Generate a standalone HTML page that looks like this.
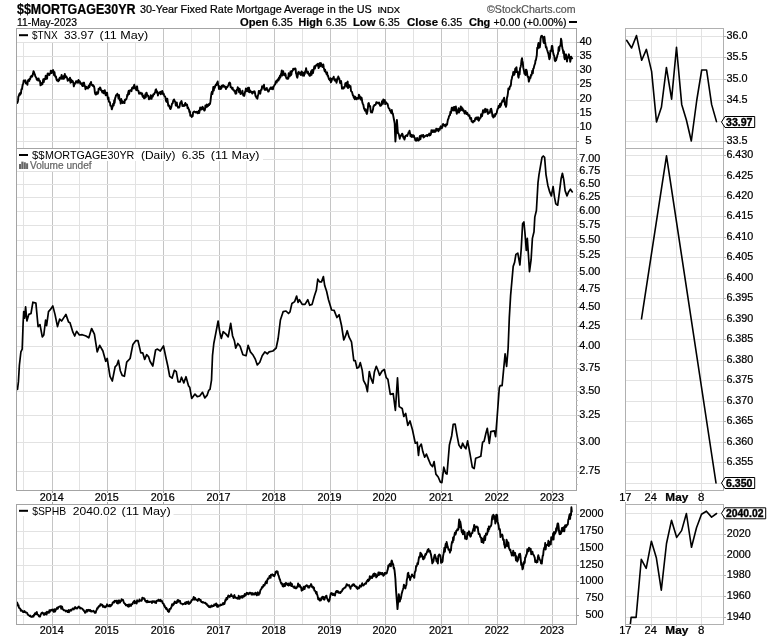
<!DOCTYPE html>
<html><head><meta charset="utf-8"><title>$$MORTGAGE30YR</title>
<style>html,body{margin:0;padding:0;background:#fff}svg{display:block;will-change:transform}</style></head>
<body>
<svg width="770" height="639" viewBox="0 0 770 639">
<rect width="770" height="639" fill="#fff"/>
<line x1="23.5" x2="23.5" y1="28.5" y2="148.5" stroke="#e2e2e2" stroke-width="1"/>
<line x1="79.5" x2="79.5" y1="28.5" y2="148.5" stroke="#e2e2e2" stroke-width="1"/>
<line x1="135.5" x2="135.5" y1="28.5" y2="148.5" stroke="#e2e2e2" stroke-width="1"/>
<line x1="191.5" x2="191.5" y1="28.5" y2="148.5" stroke="#e2e2e2" stroke-width="1"/>
<line x1="246.5" x2="246.5" y1="28.5" y2="148.5" stroke="#e2e2e2" stroke-width="1"/>
<line x1="302.5" x2="302.5" y1="28.5" y2="148.5" stroke="#e2e2e2" stroke-width="1"/>
<line x1="357.5" x2="357.5" y1="28.5" y2="148.5" stroke="#e2e2e2" stroke-width="1"/>
<line x1="413.5" x2="413.5" y1="28.5" y2="148.5" stroke="#e2e2e2" stroke-width="1"/>
<line x1="468.5" x2="468.5" y1="28.5" y2="148.5" stroke="#e2e2e2" stroke-width="1"/>
<line x1="524.5" x2="524.5" y1="28.5" y2="148.5" stroke="#e2e2e2" stroke-width="1"/>
<line x1="52.5" x2="52.5" y1="28.5" y2="148.5" stroke="#c4c4c4" stroke-width="1"/>
<line x1="107.5" x2="107.5" y1="28.5" y2="148.5" stroke="#c4c4c4" stroke-width="1"/>
<line x1="163.5" x2="163.5" y1="28.5" y2="148.5" stroke="#c4c4c4" stroke-width="1"/>
<line x1="219.5" x2="219.5" y1="28.5" y2="148.5" stroke="#c4c4c4" stroke-width="1"/>
<line x1="274.5" x2="274.5" y1="28.5" y2="148.5" stroke="#c4c4c4" stroke-width="1"/>
<line x1="330.5" x2="330.5" y1="28.5" y2="148.5" stroke="#c4c4c4" stroke-width="1"/>
<line x1="385.5" x2="385.5" y1="28.5" y2="148.5" stroke="#c4c4c4" stroke-width="1"/>
<line x1="441.5" x2="441.5" y1="28.5" y2="148.5" stroke="#c4c4c4" stroke-width="1"/>
<line x1="497.5" x2="497.5" y1="28.5" y2="148.5" stroke="#c4c4c4" stroke-width="1"/>
<line x1="552.5" x2="552.5" y1="28.5" y2="148.5" stroke="#c4c4c4" stroke-width="1"/>
<line x1="16.5" x2="576.5" y1="42.5" y2="42.5" stroke="#e2e2e2" stroke-width="1"/>
<line x1="16.5" x2="576.5" y1="56.5" y2="56.5" stroke="#e2e2e2" stroke-width="1"/>
<line x1="16.5" x2="576.5" y1="70.5" y2="70.5" stroke="#e2e2e2" stroke-width="1"/>
<line x1="16.5" x2="576.5" y1="84.5" y2="84.5" stroke="#e2e2e2" stroke-width="1"/>
<line x1="16.5" x2="576.5" y1="99.5" y2="99.5" stroke="#e2e2e2" stroke-width="1"/>
<line x1="16.5" x2="576.5" y1="113.5" y2="113.5" stroke="#e2e2e2" stroke-width="1"/>
<line x1="16.5" x2="576.5" y1="127.5" y2="127.5" stroke="#e2e2e2" stroke-width="1"/>
<line x1="16.5" x2="576.5" y1="141.5" y2="141.5" stroke="#e2e2e2" stroke-width="1"/>
<line x1="23.5" x2="23.5" y1="148.5" y2="490.5" stroke="#e2e2e2" stroke-width="1"/>
<line x1="79.5" x2="79.5" y1="148.5" y2="490.5" stroke="#e2e2e2" stroke-width="1"/>
<line x1="135.5" x2="135.5" y1="148.5" y2="490.5" stroke="#e2e2e2" stroke-width="1"/>
<line x1="191.5" x2="191.5" y1="148.5" y2="490.5" stroke="#e2e2e2" stroke-width="1"/>
<line x1="246.5" x2="246.5" y1="148.5" y2="490.5" stroke="#e2e2e2" stroke-width="1"/>
<line x1="302.5" x2="302.5" y1="148.5" y2="490.5" stroke="#e2e2e2" stroke-width="1"/>
<line x1="357.5" x2="357.5" y1="148.5" y2="490.5" stroke="#e2e2e2" stroke-width="1"/>
<line x1="413.5" x2="413.5" y1="148.5" y2="490.5" stroke="#e2e2e2" stroke-width="1"/>
<line x1="468.5" x2="468.5" y1="148.5" y2="490.5" stroke="#e2e2e2" stroke-width="1"/>
<line x1="524.5" x2="524.5" y1="148.5" y2="490.5" stroke="#e2e2e2" stroke-width="1"/>
<line x1="52.5" x2="52.5" y1="148.5" y2="490.5" stroke="#c4c4c4" stroke-width="1"/>
<line x1="107.5" x2="107.5" y1="148.5" y2="490.5" stroke="#c4c4c4" stroke-width="1"/>
<line x1="163.5" x2="163.5" y1="148.5" y2="490.5" stroke="#c4c4c4" stroke-width="1"/>
<line x1="219.5" x2="219.5" y1="148.5" y2="490.5" stroke="#c4c4c4" stroke-width="1"/>
<line x1="274.5" x2="274.5" y1="148.5" y2="490.5" stroke="#c4c4c4" stroke-width="1"/>
<line x1="330.5" x2="330.5" y1="148.5" y2="490.5" stroke="#c4c4c4" stroke-width="1"/>
<line x1="385.5" x2="385.5" y1="148.5" y2="490.5" stroke="#c4c4c4" stroke-width="1"/>
<line x1="441.5" x2="441.5" y1="148.5" y2="490.5" stroke="#c4c4c4" stroke-width="1"/>
<line x1="497.5" x2="497.5" y1="148.5" y2="490.5" stroke="#c4c4c4" stroke-width="1"/>
<line x1="552.5" x2="552.5" y1="148.5" y2="490.5" stroke="#c4c4c4" stroke-width="1"/>
<line x1="16.5" x2="576.5" y1="159.5" y2="159.5" stroke="#e2e2e2" stroke-width="1"/>
<line x1="16.5" x2="576.5" y1="171.5" y2="171.5" stroke="#e2e2e2" stroke-width="1"/>
<line x1="16.5" x2="576.5" y1="184.5" y2="184.5" stroke="#e2e2e2" stroke-width="1"/>
<line x1="16.5" x2="576.5" y1="197.5" y2="197.5" stroke="#e2e2e2" stroke-width="1"/>
<line x1="16.5" x2="576.5" y1="211.5" y2="211.5" stroke="#e2e2e2" stroke-width="1"/>
<line x1="16.5" x2="576.5" y1="225.5" y2="225.5" stroke="#e2e2e2" stroke-width="1"/>
<line x1="16.5" x2="576.5" y1="240.5" y2="240.5" stroke="#e2e2e2" stroke-width="1"/>
<line x1="16.5" x2="576.5" y1="255.5" y2="255.5" stroke="#e2e2e2" stroke-width="1"/>
<line x1="16.5" x2="576.5" y1="271.5" y2="271.5" stroke="#e2e2e2" stroke-width="1"/>
<line x1="16.5" x2="576.5" y1="289.5" y2="289.5" stroke="#e2e2e2" stroke-width="1"/>
<line x1="16.5" x2="576.5" y1="307.5" y2="307.5" stroke="#e2e2e2" stroke-width="1"/>
<line x1="16.5" x2="576.5" y1="326.5" y2="326.5" stroke="#e2e2e2" stroke-width="1"/>
<line x1="16.5" x2="576.5" y1="346.5" y2="346.5" stroke="#e2e2e2" stroke-width="1"/>
<line x1="16.5" x2="576.5" y1="368.5" y2="368.5" stroke="#e2e2e2" stroke-width="1"/>
<line x1="16.5" x2="576.5" y1="391.5" y2="391.5" stroke="#e2e2e2" stroke-width="1"/>
<line x1="16.5" x2="576.5" y1="415.5" y2="415.5" stroke="#e2e2e2" stroke-width="1"/>
<line x1="16.5" x2="576.5" y1="442.5" y2="442.5" stroke="#e2e2e2" stroke-width="1"/>
<line x1="16.5" x2="576.5" y1="471.5" y2="471.5" stroke="#e2e2e2" stroke-width="1"/>
<line x1="23.5" x2="23.5" y1="504.5" y2="624.5" stroke="#e2e2e2" stroke-width="1"/>
<line x1="79.5" x2="79.5" y1="504.5" y2="624.5" stroke="#e2e2e2" stroke-width="1"/>
<line x1="135.5" x2="135.5" y1="504.5" y2="624.5" stroke="#e2e2e2" stroke-width="1"/>
<line x1="191.5" x2="191.5" y1="504.5" y2="624.5" stroke="#e2e2e2" stroke-width="1"/>
<line x1="246.5" x2="246.5" y1="504.5" y2="624.5" stroke="#e2e2e2" stroke-width="1"/>
<line x1="302.5" x2="302.5" y1="504.5" y2="624.5" stroke="#e2e2e2" stroke-width="1"/>
<line x1="357.5" x2="357.5" y1="504.5" y2="624.5" stroke="#e2e2e2" stroke-width="1"/>
<line x1="413.5" x2="413.5" y1="504.5" y2="624.5" stroke="#e2e2e2" stroke-width="1"/>
<line x1="468.5" x2="468.5" y1="504.5" y2="624.5" stroke="#e2e2e2" stroke-width="1"/>
<line x1="524.5" x2="524.5" y1="504.5" y2="624.5" stroke="#e2e2e2" stroke-width="1"/>
<line x1="52.5" x2="52.5" y1="504.5" y2="624.5" stroke="#c4c4c4" stroke-width="1"/>
<line x1="107.5" x2="107.5" y1="504.5" y2="624.5" stroke="#c4c4c4" stroke-width="1"/>
<line x1="163.5" x2="163.5" y1="504.5" y2="624.5" stroke="#c4c4c4" stroke-width="1"/>
<line x1="219.5" x2="219.5" y1="504.5" y2="624.5" stroke="#c4c4c4" stroke-width="1"/>
<line x1="274.5" x2="274.5" y1="504.5" y2="624.5" stroke="#c4c4c4" stroke-width="1"/>
<line x1="330.5" x2="330.5" y1="504.5" y2="624.5" stroke="#c4c4c4" stroke-width="1"/>
<line x1="385.5" x2="385.5" y1="504.5" y2="624.5" stroke="#c4c4c4" stroke-width="1"/>
<line x1="441.5" x2="441.5" y1="504.5" y2="624.5" stroke="#c4c4c4" stroke-width="1"/>
<line x1="497.5" x2="497.5" y1="504.5" y2="624.5" stroke="#c4c4c4" stroke-width="1"/>
<line x1="552.5" x2="552.5" y1="504.5" y2="624.5" stroke="#c4c4c4" stroke-width="1"/>
<line x1="16.5" x2="576.5" y1="615.5" y2="615.5" stroke="#e2e2e2" stroke-width="1"/>
<line x1="16.5" x2="576.5" y1="598.5" y2="598.5" stroke="#e2e2e2" stroke-width="1"/>
<line x1="16.5" x2="576.5" y1="581.5" y2="581.5" stroke="#e2e2e2" stroke-width="1"/>
<line x1="16.5" x2="576.5" y1="565.5" y2="565.5" stroke="#e2e2e2" stroke-width="1"/>
<line x1="16.5" x2="576.5" y1="548.5" y2="548.5" stroke="#e2e2e2" stroke-width="1"/>
<line x1="16.5" x2="576.5" y1="531.5" y2="531.5" stroke="#e2e2e2" stroke-width="1"/>
<line x1="16.5" x2="576.5" y1="514.5" y2="514.5" stroke="#e2e2e2" stroke-width="1"/>
<line x1="651.5" x2="651.5" y1="28.5" y2="148.5" stroke="#e2e2e2" stroke-width="1"/>
<line x1="676.5" x2="676.5" y1="28.5" y2="148.5" stroke="#e2e2e2" stroke-width="1"/>
<line x1="701.5" x2="701.5" y1="28.5" y2="148.5" stroke="#e2e2e2" stroke-width="1"/>
<line x1="625.5" x2="723.5" y1="36.5" y2="36.5" stroke="#e2e2e2" stroke-width="1"/>
<line x1="625.5" x2="723.5" y1="57.5" y2="57.5" stroke="#e2e2e2" stroke-width="1"/>
<line x1="625.5" x2="723.5" y1="79.5" y2="79.5" stroke="#e2e2e2" stroke-width="1"/>
<line x1="625.5" x2="723.5" y1="100.5" y2="100.5" stroke="#e2e2e2" stroke-width="1"/>
<line x1="625.5" x2="723.5" y1="121.5" y2="121.5" stroke="#e2e2e2" stroke-width="1"/>
<line x1="625.5" x2="723.5" y1="141.5" y2="141.5" stroke="#e2e2e2" stroke-width="1"/>
<line x1="651.5" x2="651.5" y1="148.5" y2="490.5" stroke="#e2e2e2" stroke-width="1"/>
<line x1="676.5" x2="676.5" y1="148.5" y2="490.5" stroke="#e2e2e2" stroke-width="1"/>
<line x1="701.5" x2="701.5" y1="148.5" y2="490.5" stroke="#e2e2e2" stroke-width="1"/>
<line x1="625.5" x2="723.5" y1="483.5" y2="483.5" stroke="#e2e2e2" stroke-width="1"/>
<line x1="625.5" x2="723.5" y1="462.5" y2="462.5" stroke="#e2e2e2" stroke-width="1"/>
<line x1="625.5" x2="723.5" y1="442.5" y2="442.5" stroke="#e2e2e2" stroke-width="1"/>
<line x1="625.5" x2="723.5" y1="421.5" y2="421.5" stroke="#e2e2e2" stroke-width="1"/>
<line x1="625.5" x2="723.5" y1="401.5" y2="401.5" stroke="#e2e2e2" stroke-width="1"/>
<line x1="625.5" x2="723.5" y1="380.5" y2="380.5" stroke="#e2e2e2" stroke-width="1"/>
<line x1="625.5" x2="723.5" y1="360.5" y2="360.5" stroke="#e2e2e2" stroke-width="1"/>
<line x1="625.5" x2="723.5" y1="339.5" y2="339.5" stroke="#e2e2e2" stroke-width="1"/>
<line x1="625.5" x2="723.5" y1="319.5" y2="319.5" stroke="#e2e2e2" stroke-width="1"/>
<line x1="625.5" x2="723.5" y1="298.5" y2="298.5" stroke="#e2e2e2" stroke-width="1"/>
<line x1="625.5" x2="723.5" y1="278.5" y2="278.5" stroke="#e2e2e2" stroke-width="1"/>
<line x1="625.5" x2="723.5" y1="257.5" y2="257.5" stroke="#e2e2e2" stroke-width="1"/>
<line x1="625.5" x2="723.5" y1="237.5" y2="237.5" stroke="#e2e2e2" stroke-width="1"/>
<line x1="625.5" x2="723.5" y1="216.5" y2="216.5" stroke="#e2e2e2" stroke-width="1"/>
<line x1="625.5" x2="723.5" y1="196.5" y2="196.5" stroke="#e2e2e2" stroke-width="1"/>
<line x1="625.5" x2="723.5" y1="175.5" y2="175.5" stroke="#e2e2e2" stroke-width="1"/>
<line x1="625.5" x2="723.5" y1="155.5" y2="155.5" stroke="#e2e2e2" stroke-width="1"/>
<line x1="651.5" x2="651.5" y1="504.5" y2="624.5" stroke="#e2e2e2" stroke-width="1"/>
<line x1="676.5" x2="676.5" y1="504.5" y2="624.5" stroke="#e2e2e2" stroke-width="1"/>
<line x1="701.5" x2="701.5" y1="504.5" y2="624.5" stroke="#e2e2e2" stroke-width="1"/>
<line x1="625.5" x2="723.5" y1="617.5" y2="617.5" stroke="#e2e2e2" stroke-width="1"/>
<line x1="625.5" x2="723.5" y1="596.5" y2="596.5" stroke="#e2e2e2" stroke-width="1"/>
<line x1="625.5" x2="723.5" y1="575.5" y2="575.5" stroke="#e2e2e2" stroke-width="1"/>
<line x1="625.5" x2="723.5" y1="555.5" y2="555.5" stroke="#e2e2e2" stroke-width="1"/>
<line x1="625.5" x2="723.5" y1="534.5" y2="534.5" stroke="#e2e2e2" stroke-width="1"/>
<line x1="625.5" x2="723.5" y1="513.5" y2="513.5" stroke="#e2e2e2" stroke-width="1"/>
<rect x="17" y="29" width="133" height="13" fill="#fff"/>
<rect x="17" y="149" width="246" height="12" fill="#fff"/>
<rect x="17" y="161" width="77" height="10" fill="#fff"/>
<rect x="17" y="505" width="156.5" height="11" fill="#fff"/>
<polyline points="17.1,103.0 17.5,102.6 18.0,100.7 18.4,96.5 18.8,96.1 19.2,94.5 19.6,93.6 20.1,94.7 20.5,92.7 20.9,93.7 21.4,89.3 21.9,89.3 22.3,86.8 22.8,84.3 23.2,83.9 23.7,80.4 24.1,80.5 24.6,81.2 25.0,81.8 25.4,80.3 25.9,83.3 26.4,83.5 26.9,82.6 27.4,84.8 27.8,81.1 28.3,80.0 28.8,79.6 29.3,80.9 29.7,78.6 30.2,79.1 30.7,76.5 31.1,76.8 31.6,75.8 32.1,76.7 32.6,75.4 33.0,73.8 33.5,71.1 34.0,72.1 34.5,73.9 34.9,74.5 35.4,76.6 35.8,76.9 36.3,77.7 36.8,79.9 37.2,78.6 37.7,79.4 38.2,80.6 38.6,78.4 39.1,80.5 39.6,80.5 40.0,81.0 40.5,85.4 41.0,82.9 41.4,84.7 41.9,84.3 42.4,84.3 42.8,82.0 43.3,79.1 43.8,82.1 44.2,79.0 44.7,78.7 45.2,79.3 45.7,75.7 46.1,76.6 46.6,78.8 47.1,78.6 47.5,73.8 48.0,73.3 48.5,74.9 49.0,74.3 49.4,75.0 49.9,73.6 50.4,73.3 50.8,70.7 51.3,72.8 51.7,73.1 52.2,70.8 52.7,70.9 53.1,70.1 53.6,72.1 54.1,75.4 54.5,72.2 55.0,75.8 55.5,76.8 56.0,76.6 56.4,79.1 56.9,80.5 57.4,79.7 57.8,79.6 58.3,81.4 58.8,79.3 59.2,80.3 59.7,77.7 60.2,77.6 60.6,77.3 61.1,78.8 61.6,74.9 62.0,78.5 62.5,78.7 63.0,78.7 63.4,76.3 63.9,78.7 64.4,76.8 64.8,74.0 65.3,77.2 65.8,77.2 66.2,76.3 66.7,77.3 67.2,78.2 67.7,80.7 68.1,79.2 68.6,79.3 69.1,79.6 69.6,80.6 70.0,77.6 70.5,82.7 71.0,79.5 71.4,82.3 71.9,82.0 72.4,80.7 72.8,81.3 73.3,82.5 73.8,86.4 74.2,85.0 74.7,84.3 75.2,82.9 75.6,82.9 76.1,81.1 76.6,82.4 77.0,81.1 77.5,81.5 78.0,82.8 78.5,79.9 78.9,81.7 79.4,81.1 79.9,81.5 80.3,83.9 80.8,83.3 81.3,83.3 81.8,84.5 82.2,85.8 82.7,86.1 83.2,82.7 83.6,85.9 84.1,82.8 84.5,85.7 85.0,86.2 85.5,89.4 86.0,86.6 86.5,86.8 86.9,87.9 87.4,88.1 87.9,88.4 88.3,87.5 88.8,85.4 89.2,87.3 89.7,86.1 90.1,83.5 90.6,83.4 91.0,82.0 91.4,83.7 91.8,85.0 92.2,84.7 92.7,85.8 93.1,85.1 93.5,86.2 94.0,86.3 94.5,88.8 94.9,92.7 95.4,94.3 95.9,94.6 96.4,94.0 96.8,92.2 97.3,92.6 97.7,93.8 98.2,92.6 98.6,88.8 99.1,89.0 99.6,89.2 100.0,87.4 100.5,88.1 101.0,90.2 101.5,90.2 102.0,91.8 102.4,92.5 102.9,90.9 103.4,92.3 103.8,93.3 104.3,90.8 104.8,90.2 105.2,92.7 105.7,95.4 106.1,93.0 106.6,92.7 107.1,92.6 107.5,96.2 108.0,99.4 108.5,97.5 108.9,101.6 109.4,102.1 109.9,102.2 110.4,105.7 110.8,105.9 111.3,106.2 111.8,109.4 112.3,107.7 112.8,105.6 113.2,103.7 113.7,105.5 114.2,100.3 114.6,103.0 115.1,98.4 115.5,97.4 116.0,95.1 116.4,95.6 116.9,94.8 117.3,93.7 117.7,95.1 118.1,95.6 118.5,98.5 119.0,95.0 119.4,98.4 119.8,100.2 120.3,100.3 120.7,103.6 121.2,98.9 121.7,101.6 122.1,101.0 122.6,103.0 123.1,101.6 123.5,102.9 124.0,102.2 124.5,103.1 124.9,99.8 125.4,100.2 125.9,99.3 126.3,99.3 126.8,97.7 127.3,94.7 127.7,95.6 128.2,92.7 128.7,90.8 129.1,94.1 129.6,91.2 130.1,90.2 130.6,90.2 131.1,90.4 131.5,91.2 132.0,88.0 132.5,87.6 132.9,87.2 133.4,88.4 133.9,86.1 134.3,84.7 134.8,87.1 135.3,88.8 135.7,87.5 136.2,90.2 136.7,87.5 137.1,86.3 137.6,90.4 138.0,90.7 138.5,90.9 139.0,93.7 139.4,92.6 139.9,92.7 140.4,93.6 140.8,92.7 141.3,93.7 141.8,94.6 142.2,93.4 142.7,96.8 143.2,95.7 143.6,97.0 144.1,98.4 144.5,98.4 144.9,97.8 145.3,94.1 145.8,97.4 146.2,92.8 146.6,92.7 147.1,94.7 147.5,95.7 148.0,95.5 148.4,96.2 148.9,99.3 149.3,98.8 149.8,98.4 150.2,98.7 150.7,95.3 151.1,96.5 151.5,98.9 151.9,97.3 152.4,95.4 152.8,96.5 153.3,94.5 153.7,93.9 154.2,94.2 154.7,92.7 155.1,92.4 155.6,89.9 156.1,89.3 156.5,92.6 157.0,91.1 157.5,92.0 157.9,95.5 158.4,93.7 158.9,93.5 159.3,92.8 159.8,92.3 160.3,91.7 160.8,94.2 161.2,93.6 161.7,92.3 162.2,90.9 162.7,92.1 163.1,94.3 163.6,93.6 164.1,95.3 164.5,96.1 165.0,96.5 165.5,97.6 165.9,100.6 166.4,101.7 166.9,102.0 167.3,98.6 167.8,102.1 168.3,105.9 168.7,105.7 169.2,105.5 169.6,107.3 170.1,108.7 170.5,109.1 170.9,108.1 171.4,106.6 171.8,104.6 172.2,103.4 172.7,103.4 173.1,101.1 173.5,100.2 174.0,99.4 174.4,100.3 174.9,101.4 175.4,102.5 175.8,105.5 176.3,103.0 176.8,102.4 177.2,106.0 177.7,106.4 178.1,107.7 178.6,107.2 179.1,107.6 179.6,106.5 180.0,103.8 180.5,102.3 181.0,102.1 181.5,101.0 182.0,103.5 182.4,106.0 182.9,104.8 183.4,105.9 183.9,106.1 184.4,105.4 184.8,104.3 185.3,103.0 185.8,105.3 186.2,104.5 186.7,104.3 187.1,104.7 187.6,108.3 188.0,107.4 188.5,108.7 189.0,109.5 189.4,112.2 189.9,111.3 190.3,115.7 190.8,115.5 191.2,115.3 191.7,117.1 192.2,115.2 192.7,116.2 193.1,112.3 193.6,111.8 194.1,111.5 194.6,111.7 195.0,112.1 195.5,112.0 196.0,112.6 196.4,111.8 196.9,112.4 197.4,111.9 197.8,113.4 198.3,112.3 198.8,110.6 199.2,113.1 199.7,110.6 200.2,107.4 200.6,109.4 201.1,109.6 201.6,109.3 202.0,107.6 202.5,106.8 203.0,107.3 203.4,109.5 203.9,109.4 204.4,110.6 204.9,110.0 205.4,105.4 205.8,107.6 206.3,105.9 206.8,104.6 207.2,106.7 207.7,106.2 208.2,105.9 208.6,104.2 209.1,105.1 209.5,103.8 210.0,104.0 210.5,101.2 210.9,97.7 211.4,93.6 211.9,91.8 212.4,94.0 212.8,91.6 213.3,86.9 213.8,90.6 214.2,86.6 214.7,88.0 215.1,86.8 215.5,85.4 215.9,84.6 216.4,84.9 216.8,83.2 217.2,82.8 217.7,81.5 218.1,84.6 218.6,86.0 219.0,89.0 219.5,86.6 219.9,86.4 220.4,89.0 220.9,87.8 221.3,88.7 221.8,85.8 222.3,85.4 222.7,86.7 223.2,85.2 223.7,85.8 224.1,86.8 224.6,86.2 225.1,86.5 225.5,87.9 226.0,89.0 226.5,87.9 226.9,86.7 227.4,87.0 227.8,86.3 228.3,85.4 228.7,84.4 229.2,82.8 229.7,82.5 230.2,83.2 230.6,87.1 231.1,87.0 231.6,88.0 232.1,88.9 232.6,87.7 233.0,89.8 233.5,89.9 234.0,90.3 234.4,91.4 234.9,90.8 235.4,93.7 235.9,92.9 236.3,93.5 236.8,89.8 237.3,90.0 237.7,87.3 238.2,88.0 238.7,89.8 239.1,92.3 239.6,88.6 240.1,90.8 240.5,94.0 241.0,92.7 241.5,93.5 241.9,93.5 242.4,90.7 242.9,93.8 243.3,95.6 243.8,94.6 244.2,95.9 244.7,94.1 245.1,91.7 245.5,90.8 245.9,88.5 246.3,88.8 246.8,91.3 247.2,89.0 247.7,89.1 248.1,87.6 248.6,91.7 249.0,87.6 249.5,92.2 249.9,90.2 250.4,90.9 250.9,91.6 251.3,92.3 251.8,92.0 252.2,93.6 252.7,92.0 253.2,91.8 253.6,91.5 254.1,92.7 254.6,91.3 255.0,93.0 255.5,96.0 256.0,96.4 256.4,97.8 256.9,96.5 257.4,98.7 257.9,95.6 258.4,94.4 258.8,90.9 259.3,91.5 259.8,90.9 260.3,93.7 260.7,90.9 261.2,89.5 261.6,89.8 262.1,86.1 262.6,87.3 263.0,86.2 263.5,87.7 264.0,84.8 264.4,89.4 264.9,90.0 265.4,88.6 265.8,89.7 266.3,89.5 266.8,88.0 267.2,90.0 267.7,90.4 268.2,91.5 268.7,91.5 269.2,89.8 269.6,88.9 270.1,89.0 270.6,87.4 271.0,87.4 271.5,88.9 272.0,88.4 272.4,87.3 272.9,89.4 273.3,87.5 273.8,86.2 274.3,85.5 274.8,84.5 275.2,84.2 275.7,81.9 276.2,81.1 276.7,82.5 277.1,80.3 277.6,80.5 278.1,79.1 278.5,80.5 279.0,77.4 279.5,78.8 279.9,75.8 280.4,77.3 280.8,74.7 281.3,73.0 281.8,70.5 282.3,75.6 282.8,73.6 283.2,71.1 283.7,74.8 284.2,74.9 284.7,75.4 285.1,73.4 285.6,74.8 286.0,76.9 286.5,78.6 287.0,78.4 287.4,78.8 287.9,77.2 288.3,78.7 288.7,73.2 289.2,75.2 289.6,76.4 290.0,75.8 290.5,71.4 290.9,75.2 291.4,74.5 291.8,70.9 292.3,71.2 292.8,70.1 293.2,68.7 293.7,69.7 294.2,69.2 294.6,68.8 295.1,68.3 295.6,68.8 296.0,73.2 296.4,74.1 296.9,76.8 297.3,77.7 297.7,76.0 298.1,72.5 298.6,72.0 299.0,73.7 299.4,73.0 299.9,72.5 300.3,74.2 300.8,75.0 301.2,74.0 301.7,71.5 302.2,72.5 302.6,75.6 303.1,74.9 303.5,72.8 304.0,75.8 304.4,73.4 304.8,73.9 305.2,71.2 305.6,72.0 306.1,68.1 306.5,71.2 307.0,71.5 307.4,73.4 307.9,71.7 308.3,72.5 308.8,74.4 309.2,75.2 309.7,75.8 310.2,73.8 310.6,75.5 311.1,71.1 311.6,74.8 312.1,70.0 312.6,70.3 313.0,73.1 313.5,70.2 314.0,68.0 314.4,66.3 314.9,68.6 315.4,66.3 315.8,65.4 316.3,65.5 316.7,64.8 317.2,65.5 317.7,63.8 318.1,63.7 318.6,68.1 319.1,64.2 319.5,66.9 320.0,62.9 320.5,66.1 321.0,63.1 321.4,64.4 321.9,65.1 322.4,67.0 322.8,66.0 323.3,64.5 323.8,67.7 324.2,69.2 324.7,71.3 325.1,69.6 325.6,72.1 326.1,72.6 326.6,74.1 327.1,72.3 327.5,75.7 328.0,75.5 328.5,77.7 329.0,79.3 329.5,79.4 329.9,80.3 330.4,78.1 330.9,82.4 331.4,81.4 331.8,80.2 332.3,78.5 332.7,78.3 333.2,78.3 333.7,76.7 334.1,79.3 334.6,80.4 335.1,80.7 335.5,79.3 336.0,80.5 336.5,82.8 336.9,81.2 337.4,78.1 337.8,79.0 338.3,76.4 338.7,78.4 339.2,78.3 339.7,80.8 340.1,83.0 340.6,81.8 341.1,81.1 341.6,85.0 342.0,88.6 342.5,88.0 343.0,87.6 343.4,88.6 343.9,87.3 344.4,87.7 344.9,85.7 345.4,83.1 345.8,84.1 346.3,82.8 346.8,86.7 347.2,83.1 347.7,81.6 348.1,88.1 348.6,86.1 349.1,85.1 349.5,85.7 350.0,87.1 350.5,86.2 351.0,90.9 351.4,91.5 351.9,91.8 352.4,93.5 352.9,95.5 353.4,95.4 353.8,97.9 354.3,96.7 354.8,99.3 355.2,96.7 355.7,97.5 356.1,98.2 356.6,99.3 357.1,97.9 357.5,97.9 358.0,98.8 358.5,98.5 358.9,94.6 359.4,95.5 359.8,97.9 360.2,96.9 360.6,99.6 361.1,97.8 361.5,97.5 361.9,99.3 362.3,102.3 362.8,103.9 363.2,104.3 363.7,106.8 364.1,108.7 364.6,109.7 365.0,110.8 365.5,109.1 366.0,110.6 366.4,113.1 366.9,113.9 367.4,111.5 367.9,107.8 368.3,103.4 368.8,103.0 369.3,106.4 369.7,105.7 370.2,106.3 370.7,111.3 371.1,112.3 371.6,112.4 372.1,112.5 372.5,111.0 373.0,109.4 373.5,106.1 373.9,106.2 374.4,104.9 374.9,105.0 375.3,105.0 375.8,104.4 376.3,102.1 376.7,102.3 377.2,102.7 377.7,102.8 378.2,103.5 378.6,103.1 379.1,102.4 379.6,103.8 380.1,105.9 380.6,105.8 381.0,104.8 381.5,105.0 382.0,101.2 382.4,102.6 382.9,103.8 383.3,99.4 383.8,101.5 384.3,100.3 384.8,99.9 385.2,104.1 385.7,102.8 386.2,102.3 386.7,103.6 387.1,103.6 387.6,104.0 388.1,106.3 388.5,107.7 389.0,108.5 389.5,108.8 389.9,110.5 390.4,110.6 390.9,112.2 391.4,113.2 391.8,110.0 392.3,113.3 392.8,113.4 393.3,116.1 393.8,118.7 394.2,120.8 394.7,123.7 395.0,132.5 395.4,141.5 395.9,134.8 396.4,127.3 396.9,119.9 397.4,126.6 397.9,133.1 398.4,133.4 398.9,134.6 399.3,136.5 399.8,138.7 400.2,135.9 400.7,136.3 401.2,135.0 401.6,134.9 402.1,133.7 402.6,134.3 403.0,136.6 403.5,137.8 404.0,137.0 404.4,139.6 404.9,138.0 405.4,136.0 405.9,136.1 406.4,135.3 406.8,135.3 407.3,135.9 407.7,134.5 408.2,133.8 408.6,132.2 409.1,132.7 409.5,130.8 410.0,133.2 410.5,136.3 411.0,135.9 411.5,134.8 411.9,137.1 412.4,136.2 412.9,135.2 413.4,136.8 413.9,135.6 414.3,137.5 414.8,137.8 415.3,140.4 415.7,139.8 416.2,140.7 416.6,140.4 417.1,138.0 417.6,140.3 418.0,140.4 418.5,140.6 419.0,140.2 419.4,137.8 419.9,135.9 420.4,139.2 420.8,137.4 421.3,135.3 421.8,135.9 422.2,135.3 422.7,136.2 423.2,135.0 423.6,137.5 424.1,136.8 424.6,136.7 425.1,136.2 425.5,135.6 426.0,135.8 426.5,135.8 426.9,135.0 427.4,136.2 427.9,134.9 428.3,135.0 428.7,134.5 429.2,133.6 429.6,135.6 430.0,134.2 430.5,134.9 431.0,133.6 431.4,130.3 431.9,131.2 432.4,132.0 432.9,130.3 433.4,130.5 433.9,132.0 434.4,130.3 434.8,131.8 435.3,131.7 435.8,131.3 436.2,128.6 436.7,130.3 437.1,130.2 437.5,129.5 437.9,128.9 438.4,131.3 438.8,129.3 439.3,129.0 439.8,129.8 440.2,127.3 440.7,126.3 441.2,127.9 441.7,128.3 442.2,127.3 442.7,124.5 443.2,123.9 443.7,125.0 444.2,125.8 444.6,124.9 445.1,125.8 445.6,126.4 446.1,124.3 446.6,125.0 447.1,124.6 447.5,121.8 448.0,119.3 448.5,118.6 449.0,116.3 449.5,115.3 449.9,115.3 450.4,111.8 450.9,113.1 451.4,109.8 451.8,107.8 452.3,109.0 452.7,110.3 453.1,110.5 453.5,107.2 454.0,108.3 454.4,106.9 454.9,110.6 455.4,110.0 455.9,106.5 456.3,110.5 456.8,113.8 457.3,111.8 457.7,110.0 458.2,112.3 458.6,108.2 459.0,112.5 459.5,109.1 459.9,110.9 460.3,110.7 460.8,106.4 461.2,108.9 461.7,107.5 462.2,110.3 462.6,108.4 463.1,110.8 463.6,110.1 464.1,111.8 464.6,113.6 465.1,111.5 465.6,111.1 466.0,113.2 466.5,114.1 467.0,112.7 467.5,113.3 468.0,114.7 468.4,115.8 468.9,115.4 469.4,115.3 469.9,117.6 470.3,118.9 470.8,118.6 471.2,118.1 471.6,121.4 472.0,121.6 472.5,122.0 472.9,122.5 473.4,121.0 473.9,120.9 474.4,121.3 474.8,120.5 475.3,118.3 475.8,118.6 476.2,117.5 476.7,119.0 477.1,118.8 477.5,119.6 478.0,117.2 478.4,119.7 478.8,120.7 479.3,119.7 479.7,118.6 480.2,117.8 480.7,117.7 481.1,114.1 481.6,114.1 482.1,116.2 482.6,112.7 483.0,110.2 483.5,110.4 483.9,112.5 484.4,110.2 484.8,109.9 485.2,108.8 485.7,112.0 486.1,109.4 486.6,109.5 487.0,110.8 487.5,109.7 487.9,113.8 488.4,113.7 488.9,112.7 489.4,112.4 489.8,112.8 490.3,110.1 490.8,108.9 491.2,108.8 491.6,110.5 492.1,113.4 492.5,116.3 492.9,114.7 493.3,117.6 493.8,116.6 494.3,116.1 494.8,116.5 495.2,113.9 495.7,114.7 496.2,113.7 496.7,113.1 497.2,110.5 497.6,108.9 498.1,108.3 498.6,105.9 499.0,106.5 499.4,107.3 499.9,104.0 500.3,106.9 500.7,104.8 501.1,105.0 501.5,102.5 501.9,102.3 502.4,100.4 502.8,100.8 503.2,101.5 503.6,99.1 504.1,97.7 504.6,100.6 505.0,104.8 505.5,104.9 506.0,106.9 506.5,104.6 506.9,98.3 507.4,96.6 507.9,93.3 508.4,88.4 508.9,88.6 509.4,89.2 509.9,86.4 510.4,86.3 510.9,85.0 511.3,80.5 511.8,78.7 512.3,76.1 512.8,75.6 513.3,72.0 513.8,73.8 514.3,74.8 514.7,73.4 515.2,68.8 515.6,72.1 516.1,67.9 516.5,67.3 516.9,72.1 517.4,71.5 517.8,71.7 518.2,76.7 518.6,77.7 519.1,73.2 519.6,74.3 520.1,68.2 520.6,67.0 521.1,64.2 521.5,60.3 522.0,58.2 522.4,61.0 522.8,62.3 523.2,67.4 523.7,69.6 524.1,71.3 524.5,73.8 525.0,72.6 525.5,75.0 525.9,69.7 526.4,69.9 526.9,71.5 527.4,75.8 527.8,76.9 528.3,76.7 528.8,81.6 529.2,80.4 529.6,79.0 530.0,77.1 530.5,78.0 530.9,74.9 531.3,75.7 531.8,73.7 532.3,70.6 532.8,73.4 533.2,68.8 533.7,68.4 534.2,66.0 534.6,64.7 535.1,63.6 535.5,60.4 535.9,60.2 536.4,57.3 536.8,55.3 537.2,47.8 537.7,48.7 538.1,44.6 538.5,42.9 538.9,47.8 539.3,47.2 539.7,47.5 540.2,44.5 540.6,38.7 541.1,36.4 541.5,35.9 542.0,35.8 542.5,37.0 542.9,37.0 543.4,41.6 543.9,43.0 544.4,36.8 544.9,41.2 545.4,43.8 545.9,47.5 546.4,46.9 546.9,49.3 547.4,50.7 547.9,52.4 548.4,53.9 548.9,56.8 549.4,59.2 549.9,58.0 550.4,50.7 550.8,51.6 551.3,50.6 551.8,45.9 552.3,45.9 552.8,50.5 553.3,53.3 553.8,54.9 554.2,55.8 554.7,60.1 555.2,61.2 555.6,58.4 556.1,60.4 556.5,58.5 557.0,57.2 557.4,54.9 557.9,54.1 558.3,51.2 558.7,47.1 559.2,50.9 559.6,46.5 560.1,45.7 560.5,45.8 561.0,38.7 561.5,40.7 562.0,45.8 562.5,48.5 562.9,50.1 563.4,53.3 563.9,51.5 564.3,57.4 564.8,59.2 565.2,56.4 565.6,55.6 566.0,54.3 566.5,58.0 567.0,61.5 567.5,58.1 568.0,57.7 568.4,56.1 568.9,54.3 569.4,58.1 569.8,56.6 570.2,61.8 570.7,59.2 571.2,56.8 571.7,58.3 572.2,58.2" fill="none" stroke="#000" stroke-width="1.9" stroke-linejoin="round" stroke-linecap="round" />
<polyline points="17.5,389.4 18.4,381.9 19.4,365.0 20.9,351.9 22.2,349.1 23.1,323.8 23.7,311.6 24.6,318.1 25.6,306.9 26.9,321.0 28.8,314.4 31.0,313.5 32.9,302.2 35.9,303.1 38.1,326.6 40.0,324.7 42.3,336.9 43.8,335.0 45.6,320.0 46.6,325.6 48.5,311.6 50.3,309.7 52.8,305.9 55.0,314.4 57.5,326.6 59.7,319.1 61.6,321.0 63.5,318.1 65.9,314.4 68.5,321.9 70.0,322.8 72.9,332.2 74.7,336.0 76.6,331.3 79.4,335.0 82.2,334.7 86.0,336.0 88.8,337.8 91.6,328.5 94.4,334.1 97.2,351.9 99.7,345.3 102.9,351.0 105.7,361.3 107.2,358.5 110.0,376.3 112.3,381.0 115.1,366.9 116.9,365.0 118.4,360.4 120.3,370.7 122.2,375.4 124.4,376.3 126.7,362.2 130.1,358.5 132.9,344.4 135.7,340.7 138.0,340.7 140.8,352.9 142.8,352.9 144.7,359.4 146.6,354.7 148.5,356.6 150.0,361.3 152.8,366.0 155.6,350.0 157.5,349.1 160.3,351.0 163.5,345.9 165.9,357.5 167.8,366.0 169.7,376.3 172.1,378.2 174.4,370.3 176.3,371.6 178.1,381.9 180.0,381.9 181.5,377.2 183.8,382.9 186.0,376.7 188.5,385.7 189.8,387.6 191.7,398.4 195.0,394.1 197.3,396.6 199.7,396.0 202.5,392.3 204.8,397.9 207.2,395.1 208.7,390.4 210.0,389.4 211.5,380.1 212.5,355.7 213.8,343.5 216.0,332.2 218.1,321.0 219.8,332.2 221.3,338.4 223.2,331.7 226.0,334.1 228.2,336.9 230.7,323.4 232.6,336.0 234.4,340.7 235.7,348.2 237.8,343.5 240.1,346.3 242.9,354.7 246.1,355.7 248.1,345.3 250.4,351.9 252.8,354.7 255.4,359.4 257.3,365.0 259.8,362.2 262.2,355.7 264.8,351.9 267.3,353.8 269.1,351.9 272.9,351.0 276.1,348.2 278.1,338.8 280.4,320.0 283.2,311.6 286.0,311.0 288.5,313.5 290.0,311.9 291.9,303.5 294.7,301.6 296.6,296.0 298.1,302.5 299.4,299.7 302.2,304.4 305.0,304.4 307.8,299.7 309.7,305.3 312.1,304.4 314.4,296.0 316.3,290.3 317.8,279.1 319.6,281.9 321.5,281.9 323.4,276.6 324.7,285.6 326.6,291.3 328.5,299.7 331.6,310.0 334.1,310.4 336.9,317.5 339.1,314.7 341.6,326.0 343.8,340.0 345.7,335.4 347.2,330.7 349.1,337.2 351.5,341.9 353.8,360.7 355.3,360.7 357.0,368.2 358.8,367.3 360.3,362.6 362.2,370.1 363.5,380.3 365.9,385.0 367.4,391.6 369.3,371.5 371.0,378.4 372.9,383.1 374.4,371.9 376.3,366.3 378.2,371.0 379.6,375.3 382.1,371.0 384.3,369.5 386.2,377.5 387.9,379.4 390.3,394.4 393.2,393.5 395.4,410.3 397.5,377.9 399.2,406.6 402.2,408.5 403.8,416.5 405.7,413.5 407.8,425.3 410.0,421.0 412.5,430.0 415.3,443.2 417.2,442.2 418.5,455.4 419.4,446.9 421.3,444.1 422.8,451.6 424.7,457.2 426.4,454.1 428.8,460.1 430.7,464.7 432.6,466.6 434.1,461.6 435.9,474.1 438.2,477.0 440.4,482.2 441.9,482.6 443.8,467.2 445.7,473.2 447.0,474.1 449.4,445.0 451.7,435.7 453.2,424.4 455.1,424.0 456.9,434.7 458.8,444.7 461.1,448.4 462.6,443.2 464.4,446.9 465.9,448.8 467.6,440.9 470.1,454.4 472.3,467.2 474.2,468.5 475.7,458.2 478.5,457.2 480.8,456.3 482.6,442.2 484.1,441.3 486.0,432.9 487.3,428.3 489.3,443.3 490.8,431.6 494.3,430.8 495.6,436.6 497.1,417.8 499.3,387.7 500.1,385.7 502.1,385.7 505.1,353.9 506.6,366.4 508.1,348.8 509.3,317.9 510.6,295.6 511.9,281.0 513.2,266.4 514.6,262.4 515.9,254.4 517.8,253.1 519.9,265.0 521.2,249.1 522.6,223.8 523.9,221.9 525.2,235.8 526.3,250.4 527.3,238.4 528.4,254.4 529.5,271.7 531.1,259.7 532.4,238.4 534.0,231.8 534.8,217.1 536.4,210.5 538.0,182.6 539.0,174.6 540.4,166.6 542.0,157.3 543.3,156.0 544.6,157.3 546.0,174.6 547.8,185.2 549.7,191.9 551.3,195.9 553.1,186.6 554.5,197.2 555.8,203.9 557.7,205.2 559.3,193.2 561.1,178.6 562.4,173.3 563.8,179.9 565.1,190.6 567.0,195.9 568.6,191.9 570.4,189.2 572.3,191.9" fill="none" stroke="#000" stroke-width="1.7" stroke-linejoin="round" stroke-linecap="round" />
<polyline points="17.1,602.5 17.6,603.7 18.0,605.7 18.5,605.2 18.9,607.7 19.4,608.1 19.9,608.4 20.3,608.8 20.8,610.8 21.3,610.1 21.7,610.4 22.2,610.9 22.7,611.6 23.1,612.0 23.6,611.4 24.1,612.0 24.5,611.1 25.0,611.9 25.5,612.1 25.9,612.6 26.4,612.5 26.9,612.8 27.3,613.2 27.8,614.7 28.3,614.9 28.7,615.2 29.2,615.5 29.7,616.0 30.1,615.5 30.6,616.6 31.1,616.6 31.6,616.7 32.0,617.0 32.5,616.1 33.0,616.4 33.5,616.6 34.0,614.8 34.4,615.0 34.9,613.4 35.4,613.2 35.8,614.1 36.3,612.8 36.8,612.0 37.2,614.4 37.7,614.6 38.2,614.8 38.7,615.8 39.1,616.4 39.6,616.6 40.1,616.5 40.5,614.9 41.0,614.0 41.4,613.2 41.9,612.8 42.4,612.5 42.8,613.4 43.3,613.3 43.8,614.7 44.2,613.2 44.7,614.7 45.2,613.7 45.6,613.5 46.1,612.4 46.6,614.6 47.0,611.7 47.5,612.8 48.0,612.3 48.5,611.8 48.9,612.8 49.4,610.1 49.9,611.8 50.3,610.2 50.8,610.2 51.3,610.0 51.7,609.7 52.1,610.7 52.6,609.6 53.0,610.4 53.4,610.8 53.9,611.9 54.3,609.3 54.7,610.9 55.1,611.4 55.6,610.4 56.0,608.9 56.5,608.9 56.9,608.1 57.3,607.5 57.8,608.8 58.2,607.6 58.6,607.0 59.0,606.8 59.4,606.6 59.9,606.4 60.3,606.3 60.8,606.2 61.2,608.9 61.7,606.5 62.1,606.8 62.6,608.9 63.0,609.4 63.5,610.0 64.0,610.4 64.4,610.2 64.9,610.3 65.4,610.8 65.8,611.4 66.3,610.9 66.8,610.6 67.2,610.6 67.7,612.1 68.2,611.1 68.7,610.1 69.1,612.2 69.6,611.2 70.1,610.3 70.5,609.8 71.0,610.6 71.5,610.5 71.9,609.4 72.4,608.9 72.8,608.4 73.3,608.7 73.8,609.5 74.2,608.1 74.7,608.1 75.2,607.0 75.6,608.4 76.1,607.9 76.6,608.4 77.0,608.6 77.5,607.5 77.9,607.4 78.4,607.4 78.9,606.5 79.3,607.8 79.8,607.2 80.2,608.5 80.7,608.0 81.1,608.1 81.5,608.4 81.9,608.4 82.3,608.7 82.8,609.4 83.2,610.0 83.7,610.1 84.1,611.1 84.5,611.1 85.0,612.8 85.4,612.7 85.8,612.1 86.3,611.0 86.7,609.9 87.1,611.0 87.6,611.4 88.0,609.9 88.4,610.0 88.9,609.8 89.3,609.9 89.8,610.9 90.3,610.0 90.7,611.4 91.2,610.7 91.7,611.6 92.1,611.2 92.6,611.3 93.0,611.4 93.5,610.8 93.9,611.5 94.4,612.0 94.8,612.8 95.3,612.7 95.7,612.8 96.2,610.8 96.7,609.9 97.2,608.1 97.7,608.4 98.2,607.1 98.6,606.4 99.1,606.0 99.6,606.4 100.0,605.7 100.5,604.1 101.0,604.4 101.5,605.0 101.9,604.7 102.4,604.9 102.8,606.7 103.3,606.8 103.8,606.0 104.2,606.9 104.7,607.2 105.2,607.3 105.7,606.1 106.2,606.2 106.6,606.4 107.1,604.3 107.6,605.3 108.1,605.7 108.5,606.2 109.0,606.2 109.5,605.0 109.9,606.4 110.4,606.3 110.9,605.0 111.3,605.5 111.8,604.9 112.3,603.9 112.7,602.5 113.2,602.5 113.7,601.7 114.1,602.6 114.6,600.8 115.1,601.6 115.5,601.3 116.0,600.6 116.5,600.7 116.9,603.1 117.4,601.6 117.9,603.6 118.3,600.5 118.8,602.5 119.3,600.4 119.8,602.7 120.2,602.1 120.7,601.0 121.2,601.0 121.6,599.1 122.1,599.9 122.6,600.1 123.1,600.0 123.5,601.4 124.0,603.1 124.5,603.1 125.0,604.1 125.4,604.0 125.9,605.3 126.4,605.0 126.8,605.4 127.3,605.1 127.8,606.3 128.2,604.6 128.7,606.7 129.2,604.5 129.6,606.1 130.1,605.3 130.6,604.4 131.0,605.9 131.5,604.4 131.9,604.2 132.4,604.1 132.9,602.7 133.3,602.0 133.8,602.5 134.3,600.7 134.8,603.3 135.2,601.6 135.7,601.6 136.2,601.9 136.7,603.5 137.1,600.3 137.6,601.6 138.1,601.6 138.5,600.9 139.0,601.5 139.5,599.4 139.9,600.4 140.4,600.6 140.9,600.8 141.4,600.8 141.8,600.3 142.3,597.6 142.8,597.8 143.3,598.4 143.7,598.8 144.2,598.3 144.6,598.8 145.1,600.6 145.6,601.4 146.0,601.1 146.5,601.0 147.0,602.3 147.4,600.6 147.9,601.6 148.3,602.0 148.7,601.6 149.2,601.6 149.6,602.0 150.0,601.6 150.5,601.7 150.9,601.7 151.4,601.7 151.9,603.0 152.4,601.1 152.9,602.1 153.3,601.8 153.8,601.2 154.2,601.2 154.7,602.5 155.2,601.5 155.6,602.5 156.1,603.0 156.5,600.9 157.0,600.7 157.5,600.9 157.9,600.9 158.4,599.7 158.9,600.7 159.3,600.9 159.8,600.2 160.3,599.8 160.8,601.3 161.2,601.4 161.7,600.6 162.2,601.6 162.7,603.3 163.1,603.6 163.6,603.7 164.1,605.7 164.5,605.3 165.0,607.2 165.5,607.2 165.9,608.7 166.4,607.9 166.9,609.6 167.4,609.2 167.9,611.2 168.3,610.8 168.8,611.9 169.3,611.1 169.7,609.0 170.2,608.9 170.7,608.8 171.1,607.6 171.6,606.3 172.1,604.3 172.5,605.7 173.0,605.1 173.5,603.5 173.9,604.3 174.4,602.5 174.9,601.5 175.3,602.2 175.8,603.0 176.3,603.1 176.8,602.9 177.2,600.8 177.7,600.1 178.2,601.8 178.6,600.1 179.1,601.2 179.6,601.5 180.0,600.9 180.5,603.3 180.9,603.4 181.4,603.6 181.9,603.6 182.3,604.0 182.8,604.4 183.3,603.9 183.8,604.1 184.2,603.7 184.7,603.5 185.2,602.5 185.7,604.1 186.1,602.4 186.6,601.9 187.1,603.3 187.5,603.4 188.0,601.8 188.4,601.4 188.9,604.0 189.3,602.9 189.8,603.4 190.2,602.9 190.7,602.0 191.1,601.8 191.5,600.1 191.9,600.4 192.3,599.6 192.8,599.4 193.2,598.8 193.7,597.0 194.1,599.8 194.6,599.5 195.1,597.9 195.5,598.9 196.0,599.7 196.5,599.7 196.9,600.2 197.4,599.7 197.8,600.9 198.3,599.7 198.8,598.8 199.2,599.1 199.7,599.7 200.2,600.7 200.6,599.9 201.1,601.5 201.6,602.0 202.1,601.9 202.6,602.6 203.0,602.0 203.5,602.5 204.0,602.8 204.4,602.7 204.9,603.1 205.3,602.7 205.8,603.8 206.3,603.8 206.7,603.8 207.2,605.3 207.7,605.6 208.1,606.0 208.6,605.6 209.1,607.1 209.6,606.9 210.1,607.2 210.5,606.2 211.0,606.8 211.5,605.4 211.9,606.6 212.4,606.1 212.8,606.2 213.3,605.6 213.8,606.0 214.2,604.5 214.7,604.4 215.2,605.2 215.6,604.2 216.1,603.4 216.6,605.0 217.1,606.7 217.6,604.6 218.0,606.8 218.5,606.3 219.0,605.6 219.4,605.5 219.9,605.6 220.3,605.5 220.8,604.4 221.3,605.0 221.7,605.0 222.2,604.4 222.7,604.6 223.1,602.9 223.6,604.2 224.1,604.1 224.5,603.9 225.0,601.6 225.5,599.8 225.9,600.4 226.4,598.0 226.9,599.3 227.4,598.8 227.9,596.6 228.3,595.5 228.8,596.3 229.3,596.5 229.8,596.9 230.2,595.6 230.7,596.1 231.2,594.3 231.7,595.7 232.1,596.4 232.6,596.3 233.1,596.6 233.5,598.1 234.0,595.8 234.4,595.1 234.9,597.6 235.4,596.9 235.8,597.9 236.3,597.8 236.8,598.3 237.2,598.1 237.7,598.8 238.2,598.6 238.7,595.7 239.2,597.1 239.6,598.8 240.1,596.9 240.6,596.4 241.0,597.5 241.5,596.5 241.9,596.0 242.4,597.7 242.9,597.1 243.3,595.8 243.8,595.9 244.3,596.4 244.8,594.0 245.2,594.2 245.7,595.4 246.2,594.2 246.7,592.8 247.1,593.9 247.6,593.1 248.1,593.4 248.5,594.3 249.0,594.0 249.5,592.8 249.9,592.6 250.4,593.0 250.9,592.9 251.4,594.5 251.8,594.6 252.3,593.1 252.8,594.6 253.2,593.8 253.7,593.4 254.2,594.6 254.6,593.6 255.1,594.3 255.5,592.6 256.0,594.4 256.5,593.8 256.9,595.4 257.4,592.9 257.8,592.2 258.3,593.3 258.7,594.9 259.2,593.1 259.7,593.6 260.2,590.9 260.6,589.8 261.1,589.2 261.6,588.4 262.1,586.9 262.5,587.5 263.0,586.7 263.5,584.9 263.9,585.4 264.4,585.6 264.9,584.4 265.4,582.8 265.9,581.5 266.3,582.9 266.8,583.2 267.3,580.0 267.8,579.0 268.2,578.2 268.7,578.7 269.2,577.2 269.6,575.9 270.1,576.2 270.6,577.8 271.0,574.6 271.5,574.8 272.0,574.7 272.4,574.3 272.9,574.9 273.3,575.8 273.8,574.9 274.3,576.3 274.8,574.9 275.2,573.7 275.7,571.6 276.2,572.7 276.7,571.1 277.1,571.8 277.6,571.5 278.1,574.7 278.6,575.5 279.0,576.9 279.5,579.0 279.9,579.3 280.4,581.3 280.9,582.7 281.3,583.7 281.8,583.2 282.2,584.3 282.7,586.4 283.1,584.2 283.6,586.6 284.1,585.4 284.6,583.8 285.0,586.1 285.5,584.2 286.0,582.8 286.4,583.9 286.8,584.2 287.2,584.5 287.7,585.0 288.1,583.4 288.5,585.6 289.0,585.3 289.5,585.0 290.0,583.7 290.5,582.6 290.9,585.6 291.4,585.9 291.9,584.0 292.3,585.6 292.8,586.6 293.3,586.6 293.7,586.6 294.2,587.9 294.7,586.4 295.1,587.9 295.6,588.4 296.0,588.2 296.5,588.2 296.9,587.1 297.3,586.3 297.7,586.8 298.1,583.4 298.6,586.2 299.0,584.7 299.4,585.4 299.9,585.3 300.3,587.2 300.7,586.8 301.2,587.6 301.6,590.7 302.0,589.9 302.5,588.9 302.9,589.9 303.3,587.7 303.7,586.8 304.1,586.6 304.6,589.0 305.0,586.6 305.5,586.6 305.9,585.8 306.4,585.4 306.9,585.2 307.4,586.2 307.9,586.8 308.3,587.5 308.8,586.2 309.3,587.5 309.7,586.6 310.2,585.6 310.6,585.5 311.1,584.1 311.6,585.4 312.0,587.0 312.5,586.6 313.0,587.0 313.4,588.5 313.9,587.5 314.4,590.6 314.8,590.7 315.3,591.2 315.7,592.2 316.1,593.5 316.6,591.9 317.0,594.5 317.4,595.1 317.8,596.9 318.2,599.3 318.7,598.2 319.1,598.7 319.6,600.6 320.0,600.6 320.5,599.0 320.9,600.4 321.4,597.8 321.8,597.6 322.3,596.9 322.8,596.8 323.2,599.0 323.7,597.1 324.1,599.7 324.6,599.4 325.1,597.1 325.5,596.9 326.0,595.9 326.5,595.8 326.9,598.0 327.4,598.9 327.9,600.2 328.3,600.9 328.8,601.6 329.2,600.7 329.6,599.6 330.1,597.0 330.5,594.8 330.9,593.3 331.3,593.1 331.8,594.1 332.2,593.4 332.7,595.1 333.2,594.4 333.6,593.7 334.1,595.0 334.6,595.2 335.0,595.6 335.5,592.9 336.0,591.5 336.4,591.0 336.9,591.2 337.3,592.3 337.8,591.1 338.2,591.5 338.6,592.8 339.0,592.4 339.4,592.7 339.9,592.3 340.3,593.1 340.8,591.8 341.2,591.9 341.7,591.2 342.1,591.0 342.6,589.2 343.0,589.4 343.5,588.4 344.0,588.4 344.4,587.6 344.9,587.6 345.4,587.6 345.8,586.3 346.3,585.7 346.7,584.1 347.2,584.7 347.7,585.4 348.1,585.2 348.6,585.3 349.1,585.1 349.5,586.9 350.0,586.6 350.5,588.8 350.9,586.6 351.4,586.0 351.9,586.1 352.4,584.8 352.9,585.3 353.3,584.2 353.8,584.7 354.2,584.5 354.6,585.9 355.1,586.3 355.5,586.4 355.9,586.2 356.4,587.8 356.8,586.8 357.2,588.4 357.6,589.0 358.1,587.5 358.5,587.6 359.0,588.2 359.4,587.7 359.9,585.5 360.3,586.6 360.8,586.1 361.2,586.5 361.7,584.7 362.2,583.2 362.7,585.3 363.2,585.1 363.6,585.4 364.1,584.7 364.6,584.2 365.0,583.6 365.5,583.1 366.0,583.8 366.4,582.1 366.9,580.9 367.4,581.2 367.8,579.7 368.3,581.2 368.8,579.3 369.3,580.0 369.8,576.2 370.2,578.7 370.7,578.1 371.2,577.4 371.6,576.4 372.1,578.0 372.5,576.3 373.0,575.0 373.5,573.9 373.9,576.4 374.4,573.4 374.9,574.9 375.3,575.4 375.8,574.1 376.2,577.3 376.7,576.2 377.1,576.5 377.6,575.1 378.0,574.9 378.4,572.5 378.8,575.0 379.2,572.4 379.7,574.5 380.1,573.0 380.6,572.7 381.0,572.8 381.5,574.3 382.0,574.4 382.4,573.0 382.9,574.6 383.3,575.8 383.8,575.3 384.3,574.7 384.7,572.9 385.2,574.0 385.7,572.8 386.1,573.0 386.6,573.4 387.0,572.1 387.4,570.5 387.9,568.9 388.3,565.5 388.7,566.9 389.1,565.0 389.6,564.4 390.0,563.7 390.5,564.2 390.9,566.4 391.4,561.3 391.8,560.5 392.3,562.5 392.8,564.9 393.2,564.0 393.7,568.3 394.1,567.8 394.5,570.2 395.0,574.7 395.4,579.0 395.8,586.2 396.2,592.4 396.6,597.8 397.1,603.8 397.5,609.1 397.9,604.5 398.4,599.0 398.8,594.1 399.3,597.5 399.8,601.6 400.2,599.6 400.7,599.0 401.2,596.6 401.6,594.1 402.1,592.2 402.5,590.7 403.0,589.3 403.4,587.9 403.9,584.7 404.4,585.8 404.9,587.1 405.4,588.4 405.9,585.8 406.4,584.9 406.8,579.7 407.3,578.0 407.8,573.4 408.3,572.8 408.7,577.1 409.2,575.6 409.6,577.4 410.1,580.0 410.6,577.8 411.1,577.0 411.5,576.0 412.0,574.4 412.4,575.6 412.9,576.1 413.4,576.0 413.8,577.2 414.3,577.8 414.7,573.2 415.2,571.3 415.6,571.0 416.1,565.9 416.6,566.2 417.1,564.5 417.5,563.0 418.0,564.2 418.5,560.3 419.0,557.5 419.4,556.6 419.9,557.2 420.4,552.7 420.8,553.5 421.3,553.7 421.8,556.6 422.2,555.2 422.7,557.3 423.1,559.3 423.6,559.3 424.1,556.6 424.6,557.9 425.0,555.5 425.5,553.9 426.0,554.7 426.4,553.3 426.8,552.7 427.2,551.2 427.7,549.8 428.1,551.6 428.5,549.0 429.0,551.6 429.5,551.1 430.0,550.8 430.5,553.2 430.9,554.2 431.4,557.1 431.8,559.2 432.3,563.4 432.7,562.3 433.2,561.9 433.6,560.5 434.0,557.6 434.5,555.5 434.9,554.7 435.3,556.1 435.7,557.2 436.1,559.0 436.6,561.5 437.0,559.3 437.4,561.5 437.9,563.5 438.3,555.9 438.8,555.2 439.2,554.4 439.7,555.6 440.2,555.3 440.7,558.0 441.1,562.8 441.6,560.0 442.1,562.4 442.6,561.2 443.1,556.0 443.5,553.9 444.0,550.8 444.4,547.6 444.9,551.7 445.3,546.3 445.7,543.8 446.2,547.5 446.6,542.0 447.1,544.3 447.6,546.6 448.0,547.6 448.5,549.8 449.0,549.4 449.4,549.4 449.9,552.7 450.4,550.0 450.9,550.6 451.3,546.2 451.8,543.0 452.2,541.4 452.7,542.4 453.1,537.4 453.5,540.4 454.0,536.5 454.4,535.2 454.9,532.6 455.4,534.6 455.9,533.3 456.3,530.6 456.8,530.7 457.3,529.3 457.8,530.0 458.3,529.6 458.8,523.6 459.2,519.4 459.7,527.2 460.2,521.5 460.7,524.2 461.1,527.2 461.6,531.3 462.0,532.5 462.4,531.1 462.9,534.3 463.3,530.1 463.7,532.5 464.1,533.2 464.6,532.0 465.1,538.6 465.5,536.4 466.0,538.1 466.4,539.2 466.9,538.8 467.3,532.9 467.7,533.8 468.1,534.7 468.6,532.4 469.0,531.3 469.5,532.2 469.9,535.4 470.4,536.7 470.9,536.1 471.4,533.5 471.9,532.9 472.4,533.0 472.8,530.7 473.3,529.1 473.8,527.4 474.2,524.9 474.7,530.8 475.1,526.5 475.5,527.4 475.9,526.6 476.4,526.7 476.8,526.4 477.3,528.0 477.8,527.3 478.2,531.1 478.7,534.0 479.2,533.7 479.7,534.2 480.2,536.7 480.6,537.4 481.1,537.6 481.6,542.1 482.1,538.5 482.5,541.6 483.0,542.0 483.4,542.9 483.8,540.6 484.2,537.1 484.7,536.0 485.1,540.1 485.5,536.1 486.0,533.4 486.5,534.5 486.9,534.8 487.4,533.1 487.9,528.6 488.4,531.3 488.8,526.5 489.3,529.1 489.7,526.8 490.1,526.9 490.5,526.6 491.0,525.8 491.4,524.5 491.9,519.2 492.4,515.9 492.8,519.3 493.3,514.7 493.8,515.5 494.3,516.5 494.8,517.0 495.3,523.5 495.7,521.7 496.2,514.8 496.6,514.7 497.1,515.0 497.6,521.4 498.1,523.4 498.6,525.4 499.1,529.5 499.6,528.7 500.0,529.8 500.5,537.1 501.0,534.7 501.5,535.6 502.0,534.4 502.5,535.2 502.9,539.0 503.3,540.1 503.8,539.6 504.2,544.6 504.6,545.4 505.0,547.8 505.5,545.2 506.0,546.4 506.5,539.7 507.0,541.0 507.5,544.6 507.9,546.4 508.4,542.5 508.9,547.8 509.4,548.8 509.9,550.1 510.4,549.8 510.8,552.1 511.3,553.0 511.8,555.6 512.3,555.2 512.8,553.7 513.2,550.7 513.7,555.6 514.2,554.7 514.7,552.7 515.1,552.8 515.6,557.0 516.0,560.3 516.4,556.2 516.9,559.4 517.3,561.5 517.8,559.4 518.2,559.8 518.6,557.1 519.1,554.1 519.5,557.0 520.0,553.7 520.4,555.8 520.8,560.0 521.2,564.8 521.7,563.0 522.1,566.1 522.5,569.3 522.9,568.6 523.4,565.2 523.8,564.2 524.2,561.5 524.7,562.9 525.1,557.6 525.5,557.5 526.0,555.9 526.5,554.4 526.9,553.7 527.3,549.2 527.8,550.8 528.2,550.0 528.6,551.4 529.0,547.7 529.5,549.5 529.9,549.0 530.3,548.8 530.7,548.8 531.2,554.2 531.6,552.5 532.0,552.7 532.4,551.7 532.9,554.0 533.3,554.7 533.8,555.2 534.3,556.5 534.8,557.9 535.2,562.0 535.7,561.6 536.2,560.5 536.6,562.5 537.0,561.3 537.5,562.0 537.9,556.9 538.3,555.2 538.7,556.6 539.2,558.1 539.6,559.3 540.0,560.1 540.5,560.2 541.0,563.3 541.4,563.4 541.8,563.6 542.3,558.9 542.7,555.7 543.1,555.6 543.6,550.7 544.0,548.8 544.4,547.5 544.8,548.1 545.2,543.0 545.7,549.5 546.1,545.4 546.5,544.9 547.0,545.4 547.4,544.6 547.9,544.4 548.4,540.8 548.9,546.1 549.3,543.5 549.8,542.0 550.3,541.7 550.8,544.5 551.2,537.2 551.7,540.1 552.2,537.7 552.7,537.1 553.1,533.5 553.6,539.5 554.0,532.0 554.4,534.6 554.8,533.4 555.3,533.3 555.7,532.2 556.2,528.1 556.7,530.7 557.1,526.2 557.6,523.5 558.1,523.5 558.6,526.3 559.1,532.1 559.6,534.2 560.1,531.4 560.6,534.1 561.0,533.4 561.5,531.1 562.0,527.9 562.5,531.3 563.0,527.7 563.4,530.1 563.9,527.3 564.3,531.3 564.8,526.4 565.2,525.2 565.6,526.6 566.0,526.9 566.5,525.3 566.9,525.5 567.3,524.5 567.8,524.5 568.3,519.8 568.8,518.7 569.3,515.7 569.7,514.2 570.1,519.0 570.5,514.2 571.0,515.1 571.4,507.3 571.8,511.8" fill="none" stroke="#000" stroke-width="1.9" stroke-linejoin="round" stroke-linecap="round" />
<polyline points="626.6,40.3 631.6,48.0 636.5,35.6 641.7,60.3 646.4,49.4 651.6,71.4 656.5,122.0 661.4,107.3 666.4,67.5 671.6,99.2 676.5,47.3 681.7,104.4 686.4,120.0 691.3,141.0 696.8,100.0 701.7,70.0 706.6,70.0 711.6,104.4 716.5,121.6" fill="none" stroke="#000" stroke-width="1.6" stroke-linejoin="round" stroke-linecap="round" />
<polyline points="641.5,318.8 666.5,155.8 716.0,483.0" fill="none" stroke="#000" stroke-width="1.6" stroke-linejoin="round" stroke-linecap="round" />
<polyline points="630.4,624.0 631.1,617.4 636.1,617.4 641.3,559.3 646.2,568.3 651.4,541.2 656.4,558.1 661.3,590.2 666.5,543.5 671.5,520.3 676.7,537.4 681.6,530.6 686.4,513.5 691.5,547.3 696.5,527.7 701.5,514.2 706.4,511.2 711.6,517.1 716.6,513.5" fill="none" stroke="#000" stroke-width="1.6" stroke-linejoin="round" stroke-linecap="round" />
<rect x="16.5" y="28.5" width="560.0" height="120.0" fill="none" stroke="#a4a4a4" stroke-width="1"/>
<rect x="625.5" y="28.5" width="98.0" height="120.0" fill="none" stroke="#b0b0b0" stroke-width="1"/>
<rect x="16.5" y="148.5" width="560.0" height="342.0" fill="none" stroke="#a4a4a4" stroke-width="1"/>
<rect x="625.5" y="148.5" width="98.0" height="342.0" fill="none" stroke="#b0b0b0" stroke-width="1"/>
<rect x="16.5" y="504.5" width="560.0" height="120.0" fill="none" stroke="#a4a4a4" stroke-width="1"/>
<rect x="625.5" y="504.5" width="98.0" height="120.0" fill="none" stroke="#b0b0b0" stroke-width="1"/>
<line x1="52.5" x2="52.5" y1="490.5" y2="493.0" stroke="#a4a4a4" stroke-width="1"/>
<line x1="52.5" x2="52.5" y1="502.0" y2="504.5" stroke="#a4a4a4" stroke-width="1"/>
<line x1="52.5" x2="52.5" y1="624.5" y2="626.5" stroke="#a4a4a4" stroke-width="1"/>
<line x1="107.5" x2="107.5" y1="490.5" y2="493.0" stroke="#a4a4a4" stroke-width="1"/>
<line x1="107.5" x2="107.5" y1="502.0" y2="504.5" stroke="#a4a4a4" stroke-width="1"/>
<line x1="107.5" x2="107.5" y1="624.5" y2="626.5" stroke="#a4a4a4" stroke-width="1"/>
<line x1="163.5" x2="163.5" y1="490.5" y2="493.0" stroke="#a4a4a4" stroke-width="1"/>
<line x1="163.5" x2="163.5" y1="502.0" y2="504.5" stroke="#a4a4a4" stroke-width="1"/>
<line x1="163.5" x2="163.5" y1="624.5" y2="626.5" stroke="#a4a4a4" stroke-width="1"/>
<line x1="219.5" x2="219.5" y1="490.5" y2="493.0" stroke="#a4a4a4" stroke-width="1"/>
<line x1="219.5" x2="219.5" y1="502.0" y2="504.5" stroke="#a4a4a4" stroke-width="1"/>
<line x1="219.5" x2="219.5" y1="624.5" y2="626.5" stroke="#a4a4a4" stroke-width="1"/>
<line x1="274.5" x2="274.5" y1="490.5" y2="493.0" stroke="#a4a4a4" stroke-width="1"/>
<line x1="274.5" x2="274.5" y1="502.0" y2="504.5" stroke="#a4a4a4" stroke-width="1"/>
<line x1="274.5" x2="274.5" y1="624.5" y2="626.5" stroke="#a4a4a4" stroke-width="1"/>
<line x1="330.5" x2="330.5" y1="490.5" y2="493.0" stroke="#a4a4a4" stroke-width="1"/>
<line x1="330.5" x2="330.5" y1="502.0" y2="504.5" stroke="#a4a4a4" stroke-width="1"/>
<line x1="330.5" x2="330.5" y1="624.5" y2="626.5" stroke="#a4a4a4" stroke-width="1"/>
<line x1="385.5" x2="385.5" y1="490.5" y2="493.0" stroke="#a4a4a4" stroke-width="1"/>
<line x1="385.5" x2="385.5" y1="502.0" y2="504.5" stroke="#a4a4a4" stroke-width="1"/>
<line x1="385.5" x2="385.5" y1="624.5" y2="626.5" stroke="#a4a4a4" stroke-width="1"/>
<line x1="441.5" x2="441.5" y1="490.5" y2="493.0" stroke="#a4a4a4" stroke-width="1"/>
<line x1="441.5" x2="441.5" y1="502.0" y2="504.5" stroke="#a4a4a4" stroke-width="1"/>
<line x1="441.5" x2="441.5" y1="624.5" y2="626.5" stroke="#a4a4a4" stroke-width="1"/>
<line x1="497.5" x2="497.5" y1="490.5" y2="493.0" stroke="#a4a4a4" stroke-width="1"/>
<line x1="497.5" x2="497.5" y1="502.0" y2="504.5" stroke="#a4a4a4" stroke-width="1"/>
<line x1="497.5" x2="497.5" y1="624.5" y2="626.5" stroke="#a4a4a4" stroke-width="1"/>
<line x1="552.5" x2="552.5" y1="490.5" y2="493.0" stroke="#a4a4a4" stroke-width="1"/>
<line x1="552.5" x2="552.5" y1="502.0" y2="504.5" stroke="#a4a4a4" stroke-width="1"/>
<line x1="552.5" x2="552.5" y1="624.5" y2="626.5" stroke="#a4a4a4" stroke-width="1"/>
<line x1="625.5" x2="625.5" y1="490.5" y2="493.0" stroke="#b0b0b0" stroke-width="1"/>
<line x1="625.5" x2="625.5" y1="502.0" y2="504.5" stroke="#b0b0b0" stroke-width="1"/>
<line x1="625.5" x2="625.5" y1="624.5" y2="626.5" stroke="#b0b0b0" stroke-width="1"/>
<line x1="651.5" x2="651.5" y1="490.5" y2="493.0" stroke="#b0b0b0" stroke-width="1"/>
<line x1="651.5" x2="651.5" y1="502.0" y2="504.5" stroke="#b0b0b0" stroke-width="1"/>
<line x1="651.5" x2="651.5" y1="624.5" y2="626.5" stroke="#b0b0b0" stroke-width="1"/>
<line x1="676.5" x2="676.5" y1="490.5" y2="493.0" stroke="#b0b0b0" stroke-width="1"/>
<line x1="676.5" x2="676.5" y1="502.0" y2="504.5" stroke="#b0b0b0" stroke-width="1"/>
<line x1="676.5" x2="676.5" y1="624.5" y2="626.5" stroke="#b0b0b0" stroke-width="1"/>
<line x1="701.5" x2="701.5" y1="490.5" y2="493.0" stroke="#b0b0b0" stroke-width="1"/>
<line x1="701.5" x2="701.5" y1="502.0" y2="504.5" stroke="#b0b0b0" stroke-width="1"/>
<line x1="701.5" x2="701.5" y1="624.5" y2="626.5" stroke="#b0b0b0" stroke-width="1"/>
<text x="17.0" y="13.8" font-size="14.3" text-anchor="start" font-weight="bold" fill="#000" font-family="Liberation Sans, sans-serif" textLength="118.5" lengthAdjust="spacingAndGlyphs" stroke="#000" stroke-width="0.22">$$MORTGAGE30YR</text>
<text x="140.0" y="12.9" font-size="10.8" text-anchor="start" font-weight="normal" fill="#000" font-family="Liberation Sans, sans-serif" textLength="231.8" lengthAdjust="spacingAndGlyphs" stroke="#000" stroke-width="0.22">30-Year Fixed Rate Mortgage Average in the US</text>
<text x="377.5" y="12.9" font-size="8.3" text-anchor="start" font-weight="normal" fill="#000" font-family="Liberation Sans, sans-serif" textLength="22.5" lengthAdjust="spacingAndGlyphs" stroke="#000" stroke-width="0.22">INDX</text>
<text x="487.0" y="13.4" font-size="11" text-anchor="start" font-weight="normal" fill="#585858" font-family="Liberation Sans, sans-serif" textLength="88.5" lengthAdjust="spacingAndGlyphs" stroke="#585858" stroke-width="0.22">©StockCharts.com</text>
<text x="17.0" y="26.0" font-size="10.1" text-anchor="start" font-weight="normal" fill="#000" font-family="Liberation Sans, sans-serif" textLength="60.0" lengthAdjust="spacingAndGlyphs" stroke="#000" stroke-width="0.22">11-May-2023</text>
<text x="240.0" y="26.0" font-size="10.7" text-anchor="start" font-weight="bold" fill="#000" font-family="Liberation Sans, sans-serif" textLength="28.5" lengthAdjust="spacingAndGlyphs" stroke="#000" stroke-width="0.22">Open</text>
<text x="271.7" y="26.0" font-size="10.1" text-anchor="start" font-weight="normal" fill="#000" font-family="Liberation Sans, sans-serif" textLength="21.0" lengthAdjust="spacingAndGlyphs" stroke="#000" stroke-width="0.22">6.35</text>
<text x="298.5" y="26.0" font-size="10.7" text-anchor="start" font-weight="bold" fill="#000" font-family="Liberation Sans, sans-serif" textLength="24.0" lengthAdjust="spacingAndGlyphs" stroke="#000" stroke-width="0.22">High</text>
<text x="325.7" y="26.0" font-size="10.1" text-anchor="start" font-weight="normal" fill="#000" font-family="Liberation Sans, sans-serif" textLength="21.0" lengthAdjust="spacingAndGlyphs" stroke="#000" stroke-width="0.22">6.35</text>
<text x="353.0" y="26.0" font-size="10.7" text-anchor="start" font-weight="bold" fill="#000" font-family="Liberation Sans, sans-serif" textLength="22.5" lengthAdjust="spacingAndGlyphs" stroke="#000" stroke-width="0.22">Low</text>
<text x="378.7" y="26.0" font-size="10.1" text-anchor="start" font-weight="normal" fill="#000" font-family="Liberation Sans, sans-serif" textLength="21.0" lengthAdjust="spacingAndGlyphs" stroke="#000" stroke-width="0.22">6.35</text>
<text x="407.0" y="26.0" font-size="10.7" text-anchor="start" font-weight="bold" fill="#000" font-family="Liberation Sans, sans-serif" textLength="31.0" lengthAdjust="spacingAndGlyphs" stroke="#000" stroke-width="0.22">Close</text>
<text x="441.2" y="26.0" font-size="10.1" text-anchor="start" font-weight="normal" fill="#000" font-family="Liberation Sans, sans-serif" textLength="21.0" lengthAdjust="spacingAndGlyphs" stroke="#000" stroke-width="0.22">6.35</text>
<text x="469.0" y="26.0" font-size="10.7" text-anchor="start" font-weight="bold" fill="#000" font-family="Liberation Sans, sans-serif" textLength="21.3" lengthAdjust="spacingAndGlyphs" stroke="#000" stroke-width="0.22">Chg</text>
<text x="493.5" y="26.0" font-size="10.1" text-anchor="start" font-weight="normal" fill="#000" font-family="Liberation Sans, sans-serif" textLength="73.0" lengthAdjust="spacingAndGlyphs" stroke="#000" stroke-width="0.22">+0.00 (+0.00%)</text>
<rect x="569" y="21" width="8" height="2" fill="#000"/>
<rect x="19" y="34.2" width="9" height="2" fill="#000"/>
<text x="32.0" y="39.2" font-size="10.2" text-anchor="start" font-weight="normal" fill="#000" font-family="Liberation Sans, sans-serif" textLength="25.6" lengthAdjust="spacingAndGlyphs">$TNX</text>
<text x="63.9" y="39.2" font-size="10.2" text-anchor="start" font-weight="normal" fill="#000" font-family="Liberation Sans, sans-serif" textLength="30.1" lengthAdjust="spacingAndGlyphs">33.97</text>
<text x="99.6" y="39.2" font-size="10.2" text-anchor="start" font-weight="normal" fill="#000" font-family="Liberation Sans, sans-serif" textLength="48.6" lengthAdjust="spacingAndGlyphs">(11 May)</text>
<rect x="19" y="154.0" width="9" height="2" fill="#000"/>
<text x="32.0" y="159.0" font-size="10.2" text-anchor="start" font-weight="normal" fill="#000" font-family="Liberation Sans, sans-serif" textLength="12.6" lengthAdjust="spacingAndGlyphs">$$</text>
<text x="45.1" y="159.0" font-size="10.2" text-anchor="start" font-weight="normal" fill="#000" font-family="Liberation Sans, sans-serif" textLength="89.2" lengthAdjust="spacingAndGlyphs">MORTGAGE30YR</text>
<text x="141.0" y="159.0" font-size="10.2" text-anchor="start" font-weight="normal" fill="#000" font-family="Liberation Sans, sans-serif" textLength="34.5" lengthAdjust="spacingAndGlyphs">(Daily)</text>
<text x="181.7" y="159.0" font-size="10.2" text-anchor="start" font-weight="normal" fill="#000" font-family="Liberation Sans, sans-serif" textLength="23.3" lengthAdjust="spacingAndGlyphs">6.35</text>
<text x="210.8" y="159.0" font-size="10.2" text-anchor="start" font-weight="normal" fill="#000" font-family="Liberation Sans, sans-serif" textLength="48.7" lengthAdjust="spacingAndGlyphs">(11 May)</text>
<rect x="19" y="509.8" width="9" height="2" fill="#000"/>
<text x="32.2" y="514.8" font-size="10.2" text-anchor="start" font-weight="normal" fill="#000" font-family="Liberation Sans, sans-serif" textLength="34.0" lengthAdjust="spacingAndGlyphs">$SPHB</text>
<text x="72.8" y="514.8" font-size="10.2" text-anchor="start" font-weight="normal" fill="#000" font-family="Liberation Sans, sans-serif" textLength="43.7" lengthAdjust="spacingAndGlyphs">2040.02</text>
<text x="121.6" y="514.8" font-size="10.2" text-anchor="start" font-weight="normal" fill="#000" font-family="Liberation Sans, sans-serif" textLength="49.0" lengthAdjust="spacingAndGlyphs">(11 May)</text>
<g fill="#666"><rect x="19" y="164" width="2" height="5"/><rect x="21.3" y="161.6" width="2.2" height="7.4"/><rect x="23.8" y="162.3" width="2" height="6.7"/><rect x="26.1" y="163.3" width="2" height="5.7"/></g>
<text x="30.0" y="168.8" font-size="10.1" text-anchor="start" font-weight="normal" fill="#666" font-family="Liberation Sans, sans-serif" textLength="61.6" lengthAdjust="spacingAndGlyphs" stroke="#666" stroke-width="0.22">Volume undef</text>
<text x="579.4" y="45.0" font-size="10.2" text-anchor="start" font-weight="normal" fill="#000" font-family="Liberation Sans, sans-serif" textLength="12.3" lengthAdjust="spacingAndGlyphs" stroke="#000" stroke-width="0.22">40</text>
<text x="579.4" y="59.1" font-size="10.2" text-anchor="start" font-weight="normal" fill="#000" font-family="Liberation Sans, sans-serif" textLength="12.3" lengthAdjust="spacingAndGlyphs" stroke="#000" stroke-width="0.22">35</text>
<text x="579.4" y="73.3" font-size="10.2" text-anchor="start" font-weight="normal" fill="#000" font-family="Liberation Sans, sans-serif" textLength="12.3" lengthAdjust="spacingAndGlyphs" stroke="#000" stroke-width="0.22">30</text>
<text x="579.4" y="87.4" font-size="10.2" text-anchor="start" font-weight="normal" fill="#000" font-family="Liberation Sans, sans-serif" textLength="12.3" lengthAdjust="spacingAndGlyphs" stroke="#000" stroke-width="0.22">25</text>
<text x="579.4" y="101.6" font-size="10.2" text-anchor="start" font-weight="normal" fill="#000" font-family="Liberation Sans, sans-serif" textLength="12.3" lengthAdjust="spacingAndGlyphs" stroke="#000" stroke-width="0.22">20</text>
<text x="579.4" y="115.7" font-size="10.2" text-anchor="start" font-weight="normal" fill="#000" font-family="Liberation Sans, sans-serif" textLength="12.3" lengthAdjust="spacingAndGlyphs" stroke="#000" stroke-width="0.22">15</text>
<text x="579.4" y="129.8" font-size="10.2" text-anchor="start" font-weight="normal" fill="#000" font-family="Liberation Sans, sans-serif" textLength="12.3" lengthAdjust="spacingAndGlyphs" stroke="#000" stroke-width="0.22">10</text>
<text x="585.2" y="144.0" font-size="10.2" text-anchor="start" font-weight="normal" fill="#000" font-family="Liberation Sans, sans-serif" textLength="6.4" lengthAdjust="spacingAndGlyphs" stroke="#000" stroke-width="0.22">5</text>
<text x="579.3" y="162.1" font-size="10.2" text-anchor="start" font-weight="normal" fill="#000" font-family="Liberation Sans, sans-serif" textLength="21.1" lengthAdjust="spacingAndGlyphs" stroke="#000" stroke-width="0.22">7.00</text>
<text x="579.3" y="174.2" font-size="10.2" text-anchor="start" font-weight="normal" fill="#000" font-family="Liberation Sans, sans-serif" textLength="21.1" lengthAdjust="spacingAndGlyphs" stroke="#000" stroke-width="0.22">6.75</text>
<text x="579.3" y="186.9" font-size="10.2" text-anchor="start" font-weight="normal" fill="#000" font-family="Liberation Sans, sans-serif" textLength="21.1" lengthAdjust="spacingAndGlyphs" stroke="#000" stroke-width="0.22">6.50</text>
<text x="579.3" y="200.0" font-size="10.2" text-anchor="start" font-weight="normal" fill="#000" font-family="Liberation Sans, sans-serif" textLength="21.1" lengthAdjust="spacingAndGlyphs" stroke="#000" stroke-width="0.22">6.25</text>
<text x="579.3" y="213.6" font-size="10.2" text-anchor="start" font-weight="normal" fill="#000" font-family="Liberation Sans, sans-serif" textLength="21.1" lengthAdjust="spacingAndGlyphs" stroke="#000" stroke-width="0.22">6.00</text>
<text x="579.3" y="227.8" font-size="10.2" text-anchor="start" font-weight="normal" fill="#000" font-family="Liberation Sans, sans-serif" textLength="21.1" lengthAdjust="spacingAndGlyphs" stroke="#000" stroke-width="0.22">5.75</text>
<text x="579.3" y="242.6" font-size="10.2" text-anchor="start" font-weight="normal" fill="#000" font-family="Liberation Sans, sans-serif" textLength="21.1" lengthAdjust="spacingAndGlyphs" stroke="#000" stroke-width="0.22">5.50</text>
<text x="579.3" y="258.2" font-size="10.2" text-anchor="start" font-weight="normal" fill="#000" font-family="Liberation Sans, sans-serif" textLength="21.1" lengthAdjust="spacingAndGlyphs" stroke="#000" stroke-width="0.22">5.25</text>
<text x="579.3" y="274.5" font-size="10.2" text-anchor="start" font-weight="normal" fill="#000" font-family="Liberation Sans, sans-serif" textLength="21.1" lengthAdjust="spacingAndGlyphs" stroke="#000" stroke-width="0.22">5.00</text>
<text x="579.3" y="291.6" font-size="10.2" text-anchor="start" font-weight="normal" fill="#000" font-family="Liberation Sans, sans-serif" textLength="21.1" lengthAdjust="spacingAndGlyphs" stroke="#000" stroke-width="0.22">4.75</text>
<text x="579.3" y="309.7" font-size="10.2" text-anchor="start" font-weight="normal" fill="#000" font-family="Liberation Sans, sans-serif" textLength="21.1" lengthAdjust="spacingAndGlyphs" stroke="#000" stroke-width="0.22">4.50</text>
<text x="579.3" y="328.8" font-size="10.2" text-anchor="start" font-weight="normal" fill="#000" font-family="Liberation Sans, sans-serif" textLength="21.1" lengthAdjust="spacingAndGlyphs" stroke="#000" stroke-width="0.22">4.25</text>
<text x="579.3" y="349.0" font-size="10.2" text-anchor="start" font-weight="normal" fill="#000" font-family="Liberation Sans, sans-serif" textLength="21.1" lengthAdjust="spacingAndGlyphs" stroke="#000" stroke-width="0.22">4.00</text>
<text x="579.3" y="370.6" font-size="10.2" text-anchor="start" font-weight="normal" fill="#000" font-family="Liberation Sans, sans-serif" textLength="21.1" lengthAdjust="spacingAndGlyphs" stroke="#000" stroke-width="0.22">3.75</text>
<text x="579.3" y="393.6" font-size="10.2" text-anchor="start" font-weight="normal" fill="#000" font-family="Liberation Sans, sans-serif" textLength="21.1" lengthAdjust="spacingAndGlyphs" stroke="#000" stroke-width="0.22">3.50</text>
<text x="579.3" y="418.4" font-size="10.2" text-anchor="start" font-weight="normal" fill="#000" font-family="Liberation Sans, sans-serif" textLength="21.1" lengthAdjust="spacingAndGlyphs" stroke="#000" stroke-width="0.22">3.25</text>
<text x="579.3" y="445.1" font-size="10.2" text-anchor="start" font-weight="normal" fill="#000" font-family="Liberation Sans, sans-serif" textLength="21.1" lengthAdjust="spacingAndGlyphs" stroke="#000" stroke-width="0.22">3.00</text>
<text x="579.3" y="474.2" font-size="10.2" text-anchor="start" font-weight="normal" fill="#000" font-family="Liberation Sans, sans-serif" textLength="21.1" lengthAdjust="spacingAndGlyphs" stroke="#000" stroke-width="0.22">2.75</text>
<text x="585.4" y="618.1" font-size="10.2" text-anchor="start" font-weight="normal" fill="#000" font-family="Liberation Sans, sans-serif" textLength="18.1" lengthAdjust="spacingAndGlyphs" stroke="#000" stroke-width="0.22">500</text>
<text x="585.4" y="601.3" font-size="10.2" text-anchor="start" font-weight="normal" fill="#000" font-family="Liberation Sans, sans-serif" textLength="18.1" lengthAdjust="spacingAndGlyphs" stroke="#000" stroke-width="0.22">750</text>
<text x="579.5" y="584.4" font-size="10.2" text-anchor="start" font-weight="normal" fill="#000" font-family="Liberation Sans, sans-serif" textLength="24.0" lengthAdjust="spacingAndGlyphs" stroke="#000" stroke-width="0.22">1000</text>
<text x="579.5" y="567.6" font-size="10.2" text-anchor="start" font-weight="normal" fill="#000" font-family="Liberation Sans, sans-serif" textLength="24.0" lengthAdjust="spacingAndGlyphs" stroke="#000" stroke-width="0.22">1250</text>
<text x="579.5" y="550.8" font-size="10.2" text-anchor="start" font-weight="normal" fill="#000" font-family="Liberation Sans, sans-serif" textLength="24.0" lengthAdjust="spacingAndGlyphs" stroke="#000" stroke-width="0.22">1500</text>
<text x="579.5" y="534.0" font-size="10.2" text-anchor="start" font-weight="normal" fill="#000" font-family="Liberation Sans, sans-serif" textLength="24.0" lengthAdjust="spacingAndGlyphs" stroke="#000" stroke-width="0.22">1750</text>
<text x="579.5" y="517.1" font-size="10.2" text-anchor="start" font-weight="normal" fill="#000" font-family="Liberation Sans, sans-serif" textLength="24.0" lengthAdjust="spacingAndGlyphs" stroke="#000" stroke-width="0.22">2000</text>
<text x="39.8" y="500.8" font-size="10.2" text-anchor="start" font-weight="normal" fill="#000" font-family="Liberation Sans, sans-serif" textLength="24.0" lengthAdjust="spacingAndGlyphs" stroke="#000" stroke-width="0.22">2014</text>
<text x="39.8" y="633.8" font-size="10.2" text-anchor="start" font-weight="normal" fill="#000" font-family="Liberation Sans, sans-serif" textLength="24.0" lengthAdjust="spacingAndGlyphs" stroke="#000" stroke-width="0.22">2014</text>
<text x="94.8" y="500.8" font-size="10.2" text-anchor="start" font-weight="normal" fill="#000" font-family="Liberation Sans, sans-serif" textLength="24.0" lengthAdjust="spacingAndGlyphs" stroke="#000" stroke-width="0.22">2015</text>
<text x="94.8" y="633.8" font-size="10.2" text-anchor="start" font-weight="normal" fill="#000" font-family="Liberation Sans, sans-serif" textLength="24.0" lengthAdjust="spacingAndGlyphs" stroke="#000" stroke-width="0.22">2015</text>
<text x="150.7" y="500.8" font-size="10.2" text-anchor="start" font-weight="normal" fill="#000" font-family="Liberation Sans, sans-serif" textLength="24.0" lengthAdjust="spacingAndGlyphs" stroke="#000" stroke-width="0.22">2016</text>
<text x="150.7" y="633.8" font-size="10.2" text-anchor="start" font-weight="normal" fill="#000" font-family="Liberation Sans, sans-serif" textLength="24.0" lengthAdjust="spacingAndGlyphs" stroke="#000" stroke-width="0.22">2016</text>
<text x="206.6" y="500.8" font-size="10.2" text-anchor="start" font-weight="normal" fill="#000" font-family="Liberation Sans, sans-serif" textLength="24.0" lengthAdjust="spacingAndGlyphs" stroke="#000" stroke-width="0.22">2017</text>
<text x="206.6" y="633.8" font-size="10.2" text-anchor="start" font-weight="normal" fill="#000" font-family="Liberation Sans, sans-serif" textLength="24.0" lengthAdjust="spacingAndGlyphs" stroke="#000" stroke-width="0.22">2017</text>
<text x="261.7" y="500.8" font-size="10.2" text-anchor="start" font-weight="normal" fill="#000" font-family="Liberation Sans, sans-serif" textLength="24.0" lengthAdjust="spacingAndGlyphs" stroke="#000" stroke-width="0.22">2018</text>
<text x="261.7" y="633.8" font-size="10.2" text-anchor="start" font-weight="normal" fill="#000" font-family="Liberation Sans, sans-serif" textLength="24.0" lengthAdjust="spacingAndGlyphs" stroke="#000" stroke-width="0.22">2018</text>
<text x="317.6" y="500.8" font-size="10.2" text-anchor="start" font-weight="normal" fill="#000" font-family="Liberation Sans, sans-serif" textLength="24.0" lengthAdjust="spacingAndGlyphs" stroke="#000" stroke-width="0.22">2019</text>
<text x="317.6" y="633.8" font-size="10.2" text-anchor="start" font-weight="normal" fill="#000" font-family="Liberation Sans, sans-serif" textLength="24.0" lengthAdjust="spacingAndGlyphs" stroke="#000" stroke-width="0.22">2019</text>
<text x="372.6" y="500.8" font-size="10.2" text-anchor="start" font-weight="normal" fill="#000" font-family="Liberation Sans, sans-serif" textLength="24.0" lengthAdjust="spacingAndGlyphs" stroke="#000" stroke-width="0.22">2020</text>
<text x="372.6" y="633.8" font-size="10.2" text-anchor="start" font-weight="normal" fill="#000" font-family="Liberation Sans, sans-serif" textLength="24.0" lengthAdjust="spacingAndGlyphs" stroke="#000" stroke-width="0.22">2020</text>
<text x="428.9" y="500.8" font-size="10.2" text-anchor="start" font-weight="normal" fill="#000" font-family="Liberation Sans, sans-serif" textLength="24.0" lengthAdjust="spacingAndGlyphs" stroke="#000" stroke-width="0.22">2021</text>
<text x="428.9" y="633.8" font-size="10.2" text-anchor="start" font-weight="normal" fill="#000" font-family="Liberation Sans, sans-serif" textLength="24.0" lengthAdjust="spacingAndGlyphs" stroke="#000" stroke-width="0.22">2021</text>
<text x="484.8" y="500.8" font-size="10.2" text-anchor="start" font-weight="normal" fill="#000" font-family="Liberation Sans, sans-serif" textLength="24.0" lengthAdjust="spacingAndGlyphs" stroke="#000" stroke-width="0.22">2022</text>
<text x="484.8" y="633.8" font-size="10.2" text-anchor="start" font-weight="normal" fill="#000" font-family="Liberation Sans, sans-serif" textLength="24.0" lengthAdjust="spacingAndGlyphs" stroke="#000" stroke-width="0.22">2022</text>
<text x="540.0" y="500.8" font-size="10.2" text-anchor="start" font-weight="normal" fill="#000" font-family="Liberation Sans, sans-serif" textLength="24.0" lengthAdjust="spacingAndGlyphs" stroke="#000" stroke-width="0.22">2023</text>
<text x="540.0" y="633.8" font-size="10.2" text-anchor="start" font-weight="normal" fill="#000" font-family="Liberation Sans, sans-serif" textLength="24.0" lengthAdjust="spacingAndGlyphs" stroke="#000" stroke-width="0.22">2023</text>
<text x="619.2" y="500.8" font-size="10.2" text-anchor="start" font-weight="normal" fill="#000" font-family="Liberation Sans, sans-serif" textLength="12.3" lengthAdjust="spacingAndGlyphs" stroke="#000" stroke-width="0.22">17</text>
<text x="619.2" y="633.8" font-size="10.2" text-anchor="start" font-weight="normal" fill="#000" font-family="Liberation Sans, sans-serif" textLength="12.3" lengthAdjust="spacingAndGlyphs" stroke="#000" stroke-width="0.22">17</text>
<text x="644.6" y="500.8" font-size="10.2" text-anchor="start" font-weight="normal" fill="#000" font-family="Liberation Sans, sans-serif" textLength="12.3" lengthAdjust="spacingAndGlyphs" stroke="#000" stroke-width="0.22">24</text>
<text x="644.6" y="633.8" font-size="10.2" text-anchor="start" font-weight="normal" fill="#000" font-family="Liberation Sans, sans-serif" textLength="12.3" lengthAdjust="spacingAndGlyphs" stroke="#000" stroke-width="0.22">24</text>
<text x="697.9" y="500.8" font-size="10.2" text-anchor="start" font-weight="normal" fill="#000" font-family="Liberation Sans, sans-serif" textLength="6.4" lengthAdjust="spacingAndGlyphs" stroke="#000" stroke-width="0.22">8</text>
<text x="697.9" y="633.8" font-size="10.2" text-anchor="start" font-weight="normal" fill="#000" font-family="Liberation Sans, sans-serif" textLength="6.4" lengthAdjust="spacingAndGlyphs" stroke="#000" stroke-width="0.22">8</text>
<text x="676.8" y="500.8" font-size="10.7" text-anchor="middle" font-weight="bold" fill="#000" font-family="Liberation Sans, sans-serif" textLength="23.0" lengthAdjust="spacingAndGlyphs" stroke="#000" stroke-width="0.22">May</text>
<text x="676.8" y="633.8" font-size="10.7" text-anchor="middle" font-weight="bold" fill="#000" font-family="Liberation Sans, sans-serif" textLength="23.0" lengthAdjust="spacingAndGlyphs" stroke="#000" stroke-width="0.22">May</text>
<text x="726.4" y="39.0" font-size="10.2" text-anchor="start" font-weight="normal" fill="#000" font-family="Liberation Sans, sans-serif" textLength="21.1" lengthAdjust="spacingAndGlyphs" stroke="#000" stroke-width="0.22">36.0</text>
<text x="726.4" y="60.0" font-size="10.2" text-anchor="start" font-weight="normal" fill="#000" font-family="Liberation Sans, sans-serif" textLength="21.1" lengthAdjust="spacingAndGlyphs" stroke="#000" stroke-width="0.22">35.5</text>
<text x="726.4" y="82.0" font-size="10.2" text-anchor="start" font-weight="normal" fill="#000" font-family="Liberation Sans, sans-serif" textLength="21.1" lengthAdjust="spacingAndGlyphs" stroke="#000" stroke-width="0.22">35.0</text>
<text x="726.4" y="103.0" font-size="10.2" text-anchor="start" font-weight="normal" fill="#000" font-family="Liberation Sans, sans-serif" textLength="21.1" lengthAdjust="spacingAndGlyphs" stroke="#000" stroke-width="0.22">34.5</text>
<text x="726.4" y="144.0" font-size="10.2" text-anchor="start" font-weight="normal" fill="#000" font-family="Liberation Sans, sans-serif" textLength="21.1" lengthAdjust="spacingAndGlyphs" stroke="#000" stroke-width="0.22">33.5</text>
<text x="726.4" y="158.0" font-size="10.2" text-anchor="start" font-weight="normal" fill="#000" font-family="Liberation Sans, sans-serif" textLength="26.9" lengthAdjust="spacingAndGlyphs" stroke="#000" stroke-width="0.22">6.430</text>
<text x="726.4" y="178.5" font-size="10.2" text-anchor="start" font-weight="normal" fill="#000" font-family="Liberation Sans, sans-serif" textLength="26.9" lengthAdjust="spacingAndGlyphs" stroke="#000" stroke-width="0.22">6.425</text>
<text x="726.4" y="198.9" font-size="10.2" text-anchor="start" font-weight="normal" fill="#000" font-family="Liberation Sans, sans-serif" textLength="26.9" lengthAdjust="spacingAndGlyphs" stroke="#000" stroke-width="0.22">6.420</text>
<text x="726.4" y="219.4" font-size="10.2" text-anchor="start" font-weight="normal" fill="#000" font-family="Liberation Sans, sans-serif" textLength="26.9" lengthAdjust="spacingAndGlyphs" stroke="#000" stroke-width="0.22">6.415</text>
<text x="726.4" y="239.9" font-size="10.2" text-anchor="start" font-weight="normal" fill="#000" font-family="Liberation Sans, sans-serif" textLength="26.9" lengthAdjust="spacingAndGlyphs" stroke="#000" stroke-width="0.22">6.410</text>
<text x="726.4" y="260.3" font-size="10.2" text-anchor="start" font-weight="normal" fill="#000" font-family="Liberation Sans, sans-serif" textLength="26.9" lengthAdjust="spacingAndGlyphs" stroke="#000" stroke-width="0.22">6.405</text>
<text x="726.4" y="280.8" font-size="10.2" text-anchor="start" font-weight="normal" fill="#000" font-family="Liberation Sans, sans-serif" textLength="26.9" lengthAdjust="spacingAndGlyphs" stroke="#000" stroke-width="0.22">6.400</text>
<text x="726.4" y="301.3" font-size="10.2" text-anchor="start" font-weight="normal" fill="#000" font-family="Liberation Sans, sans-serif" textLength="26.9" lengthAdjust="spacingAndGlyphs" stroke="#000" stroke-width="0.22">6.395</text>
<text x="726.4" y="321.7" font-size="10.2" text-anchor="start" font-weight="normal" fill="#000" font-family="Liberation Sans, sans-serif" textLength="26.9" lengthAdjust="spacingAndGlyphs" stroke="#000" stroke-width="0.22">6.390</text>
<text x="726.4" y="342.2" font-size="10.2" text-anchor="start" font-weight="normal" fill="#000" font-family="Liberation Sans, sans-serif" textLength="26.9" lengthAdjust="spacingAndGlyphs" stroke="#000" stroke-width="0.22">6.385</text>
<text x="726.4" y="362.7" font-size="10.2" text-anchor="start" font-weight="normal" fill="#000" font-family="Liberation Sans, sans-serif" textLength="26.9" lengthAdjust="spacingAndGlyphs" stroke="#000" stroke-width="0.22">6.380</text>
<text x="726.4" y="383.1" font-size="10.2" text-anchor="start" font-weight="normal" fill="#000" font-family="Liberation Sans, sans-serif" textLength="26.9" lengthAdjust="spacingAndGlyphs" stroke="#000" stroke-width="0.22">6.375</text>
<text x="726.4" y="403.6" font-size="10.2" text-anchor="start" font-weight="normal" fill="#000" font-family="Liberation Sans, sans-serif" textLength="26.9" lengthAdjust="spacingAndGlyphs" stroke="#000" stroke-width="0.22">6.370</text>
<text x="726.4" y="424.1" font-size="10.2" text-anchor="start" font-weight="normal" fill="#000" font-family="Liberation Sans, sans-serif" textLength="26.9" lengthAdjust="spacingAndGlyphs" stroke="#000" stroke-width="0.22">6.365</text>
<text x="726.4" y="444.6" font-size="10.2" text-anchor="start" font-weight="normal" fill="#000" font-family="Liberation Sans, sans-serif" textLength="26.9" lengthAdjust="spacingAndGlyphs" stroke="#000" stroke-width="0.22">6.360</text>
<text x="726.4" y="465.0" font-size="10.2" text-anchor="start" font-weight="normal" fill="#000" font-family="Liberation Sans, sans-serif" textLength="26.9" lengthAdjust="spacingAndGlyphs" stroke="#000" stroke-width="0.22">6.355</text>
<text x="726.7" y="619.9" font-size="10.2" text-anchor="start" font-weight="normal" fill="#000" font-family="Liberation Sans, sans-serif" textLength="24.0" lengthAdjust="spacingAndGlyphs" stroke="#000" stroke-width="0.22">1940</text>
<text x="726.7" y="599.1" font-size="10.2" text-anchor="start" font-weight="normal" fill="#000" font-family="Liberation Sans, sans-serif" textLength="24.0" lengthAdjust="spacingAndGlyphs" stroke="#000" stroke-width="0.22">1960</text>
<text x="726.7" y="578.4" font-size="10.2" text-anchor="start" font-weight="normal" fill="#000" font-family="Liberation Sans, sans-serif" textLength="24.0" lengthAdjust="spacingAndGlyphs" stroke="#000" stroke-width="0.22">1980</text>
<text x="726.7" y="557.6" font-size="10.2" text-anchor="start" font-weight="normal" fill="#000" font-family="Liberation Sans, sans-serif" textLength="24.0" lengthAdjust="spacingAndGlyphs" stroke="#000" stroke-width="0.22">2000</text>
<text x="726.7" y="536.9" font-size="10.2" text-anchor="start" font-weight="normal" fill="#000" font-family="Liberation Sans, sans-serif" textLength="24.0" lengthAdjust="spacingAndGlyphs" stroke="#000" stroke-width="0.22">2020</text>
<line x1="576.5" x2="579.0" y1="42.5" y2="42.5" stroke="#a4a4a4" stroke-width="1"/>
<line x1="576.5" x2="579.0" y1="56.5" y2="56.5" stroke="#a4a4a4" stroke-width="1"/>
<line x1="576.5" x2="579.0" y1="70.5" y2="70.5" stroke="#a4a4a4" stroke-width="1"/>
<line x1="576.5" x2="579.0" y1="84.5" y2="84.5" stroke="#a4a4a4" stroke-width="1"/>
<line x1="576.5" x2="579.0" y1="99.5" y2="99.5" stroke="#a4a4a4" stroke-width="1"/>
<line x1="576.5" x2="579.0" y1="113.5" y2="113.5" stroke="#a4a4a4" stroke-width="1"/>
<line x1="576.5" x2="579.0" y1="127.5" y2="127.5" stroke="#a4a4a4" stroke-width="1"/>
<line x1="576.5" x2="579.0" y1="141.5" y2="141.5" stroke="#a4a4a4" stroke-width="1"/>
<line x1="576.5" x2="579.0" y1="159.5" y2="159.5" stroke="#a4a4a4" stroke-width="1"/>
<line x1="576.5" x2="579.0" y1="171.5" y2="171.5" stroke="#a4a4a4" stroke-width="1"/>
<line x1="576.5" x2="579.0" y1="184.5" y2="184.5" stroke="#a4a4a4" stroke-width="1"/>
<line x1="576.5" x2="579.0" y1="197.5" y2="197.5" stroke="#a4a4a4" stroke-width="1"/>
<line x1="576.5" x2="579.0" y1="211.5" y2="211.5" stroke="#a4a4a4" stroke-width="1"/>
<line x1="576.5" x2="579.0" y1="225.5" y2="225.5" stroke="#a4a4a4" stroke-width="1"/>
<line x1="576.5" x2="579.0" y1="240.5" y2="240.5" stroke="#a4a4a4" stroke-width="1"/>
<line x1="576.5" x2="579.0" y1="255.5" y2="255.5" stroke="#a4a4a4" stroke-width="1"/>
<line x1="576.5" x2="579.0" y1="271.5" y2="271.5" stroke="#a4a4a4" stroke-width="1"/>
<line x1="576.5" x2="579.0" y1="289.5" y2="289.5" stroke="#a4a4a4" stroke-width="1"/>
<line x1="576.5" x2="579.0" y1="307.5" y2="307.5" stroke="#a4a4a4" stroke-width="1"/>
<line x1="576.5" x2="579.0" y1="326.5" y2="326.5" stroke="#a4a4a4" stroke-width="1"/>
<line x1="576.5" x2="579.0" y1="346.5" y2="346.5" stroke="#a4a4a4" stroke-width="1"/>
<line x1="576.5" x2="579.0" y1="368.5" y2="368.5" stroke="#a4a4a4" stroke-width="1"/>
<line x1="576.5" x2="579.0" y1="391.5" y2="391.5" stroke="#a4a4a4" stroke-width="1"/>
<line x1="576.5" x2="579.0" y1="415.5" y2="415.5" stroke="#a4a4a4" stroke-width="1"/>
<line x1="576.5" x2="579.0" y1="442.5" y2="442.5" stroke="#a4a4a4" stroke-width="1"/>
<line x1="576.5" x2="579.0" y1="471.5" y2="471.5" stroke="#a4a4a4" stroke-width="1"/>
<line x1="576.5" x2="579.0" y1="615.5" y2="615.5" stroke="#a4a4a4" stroke-width="1"/>
<line x1="576.5" x2="579.0" y1="598.5" y2="598.5" stroke="#a4a4a4" stroke-width="1"/>
<line x1="576.5" x2="579.0" y1="581.5" y2="581.5" stroke="#a4a4a4" stroke-width="1"/>
<line x1="576.5" x2="579.0" y1="565.5" y2="565.5" stroke="#a4a4a4" stroke-width="1"/>
<line x1="576.5" x2="579.0" y1="548.5" y2="548.5" stroke="#a4a4a4" stroke-width="1"/>
<line x1="576.5" x2="579.0" y1="531.5" y2="531.5" stroke="#a4a4a4" stroke-width="1"/>
<line x1="576.5" x2="579.0" y1="514.5" y2="514.5" stroke="#a4a4a4" stroke-width="1"/>
<line x1="576.5" x2="578.0" y1="484.5" y2="484.5" stroke="#c8c8c8" stroke-width="1"/>
<line x1="576.5" x2="578.0" y1="477.5" y2="477.5" stroke="#c8c8c8" stroke-width="1"/>
<line x1="576.5" x2="578.0" y1="471.5" y2="471.5" stroke="#c8c8c8" stroke-width="1"/>
<line x1="576.5" x2="578.0" y1="465.5" y2="465.5" stroke="#c8c8c8" stroke-width="1"/>
<line x1="576.5" x2="578.0" y1="459.5" y2="459.5" stroke="#c8c8c8" stroke-width="1"/>
<line x1="576.5" x2="578.0" y1="453.5" y2="453.5" stroke="#c8c8c8" stroke-width="1"/>
<line x1="576.5" x2="578.0" y1="448.5" y2="448.5" stroke="#c8c8c8" stroke-width="1"/>
<line x1="576.5" x2="578.0" y1="442.5" y2="442.5" stroke="#c8c8c8" stroke-width="1"/>
<line x1="576.5" x2="578.0" y1="437.5" y2="437.5" stroke="#c8c8c8" stroke-width="1"/>
<line x1="576.5" x2="578.0" y1="431.5" y2="431.5" stroke="#c8c8c8" stroke-width="1"/>
<line x1="576.5" x2="578.0" y1="426.5" y2="426.5" stroke="#c8c8c8" stroke-width="1"/>
<line x1="576.5" x2="578.0" y1="421.5" y2="421.5" stroke="#c8c8c8" stroke-width="1"/>
<line x1="576.5" x2="578.0" y1="415.5" y2="415.5" stroke="#c8c8c8" stroke-width="1"/>
<line x1="576.5" x2="578.0" y1="410.5" y2="410.5" stroke="#c8c8c8" stroke-width="1"/>
<line x1="576.5" x2="578.0" y1="405.5" y2="405.5" stroke="#c8c8c8" stroke-width="1"/>
<line x1="576.5" x2="578.0" y1="400.5" y2="400.5" stroke="#c8c8c8" stroke-width="1"/>
<line x1="576.5" x2="578.0" y1="395.5" y2="395.5" stroke="#c8c8c8" stroke-width="1"/>
<line x1="576.5" x2="578.0" y1="391.5" y2="391.5" stroke="#c8c8c8" stroke-width="1"/>
<line x1="576.5" x2="578.0" y1="386.5" y2="386.5" stroke="#c8c8c8" stroke-width="1"/>
<line x1="576.5" x2="578.0" y1="381.5" y2="381.5" stroke="#c8c8c8" stroke-width="1"/>
<line x1="576.5" x2="578.0" y1="377.5" y2="377.5" stroke="#c8c8c8" stroke-width="1"/>
<line x1="576.5" x2="578.0" y1="372.5" y2="372.5" stroke="#c8c8c8" stroke-width="1"/>
<line x1="576.5" x2="578.0" y1="368.5" y2="368.5" stroke="#c8c8c8" stroke-width="1"/>
<line x1="576.5" x2="578.0" y1="363.5" y2="363.5" stroke="#c8c8c8" stroke-width="1"/>
<line x1="576.5" x2="578.0" y1="359.5" y2="359.5" stroke="#c8c8c8" stroke-width="1"/>
<line x1="576.5" x2="578.0" y1="354.5" y2="354.5" stroke="#c8c8c8" stroke-width="1"/>
<line x1="576.5" x2="578.0" y1="350.5" y2="350.5" stroke="#c8c8c8" stroke-width="1"/>
<line x1="576.5" x2="578.0" y1="346.5" y2="346.5" stroke="#c8c8c8" stroke-width="1"/>
<line x1="576.5" x2="578.0" y1="342.5" y2="342.5" stroke="#c8c8c8" stroke-width="1"/>
<line x1="576.5" x2="578.0" y1="338.5" y2="338.5" stroke="#c8c8c8" stroke-width="1"/>
<line x1="576.5" x2="578.0" y1="334.5" y2="334.5" stroke="#c8c8c8" stroke-width="1"/>
<line x1="576.5" x2="578.0" y1="330.5" y2="330.5" stroke="#c8c8c8" stroke-width="1"/>
<line x1="576.5" x2="578.0" y1="326.5" y2="326.5" stroke="#c8c8c8" stroke-width="1"/>
<line x1="576.5" x2="578.0" y1="322.5" y2="322.5" stroke="#c8c8c8" stroke-width="1"/>
<line x1="576.5" x2="578.0" y1="318.5" y2="318.5" stroke="#c8c8c8" stroke-width="1"/>
<line x1="576.5" x2="578.0" y1="314.5" y2="314.5" stroke="#c8c8c8" stroke-width="1"/>
<line x1="576.5" x2="578.0" y1="310.5" y2="310.5" stroke="#c8c8c8" stroke-width="1"/>
<line x1="576.5" x2="578.0" y1="307.5" y2="307.5" stroke="#c8c8c8" stroke-width="1"/>
<line x1="576.5" x2="578.0" y1="303.5" y2="303.5" stroke="#c8c8c8" stroke-width="1"/>
<line x1="576.5" x2="578.0" y1="299.5" y2="299.5" stroke="#c8c8c8" stroke-width="1"/>
<line x1="576.5" x2="578.0" y1="296.5" y2="296.5" stroke="#c8c8c8" stroke-width="1"/>
<line x1="576.5" x2="578.0" y1="292.5" y2="292.5" stroke="#c8c8c8" stroke-width="1"/>
<line x1="576.5" x2="578.0" y1="289.5" y2="289.5" stroke="#c8c8c8" stroke-width="1"/>
<line x1="576.5" x2="578.0" y1="285.5" y2="285.5" stroke="#c8c8c8" stroke-width="1"/>
<line x1="576.5" x2="578.0" y1="282.5" y2="282.5" stroke="#c8c8c8" stroke-width="1"/>
<line x1="576.5" x2="578.0" y1="278.5" y2="278.5" stroke="#c8c8c8" stroke-width="1"/>
<line x1="576.5" x2="578.0" y1="275.5" y2="275.5" stroke="#c8c8c8" stroke-width="1"/>
<line x1="576.5" x2="578.0" y1="271.5" y2="271.5" stroke="#c8c8c8" stroke-width="1"/>
<line x1="576.5" x2="578.0" y1="268.5" y2="268.5" stroke="#c8c8c8" stroke-width="1"/>
<line x1="576.5" x2="578.0" y1="265.5" y2="265.5" stroke="#c8c8c8" stroke-width="1"/>
<line x1="576.5" x2="578.0" y1="262.5" y2="262.5" stroke="#c8c8c8" stroke-width="1"/>
<line x1="576.5" x2="578.0" y1="258.5" y2="258.5" stroke="#c8c8c8" stroke-width="1"/>
<line x1="576.5" x2="578.0" y1="255.5" y2="255.5" stroke="#c8c8c8" stroke-width="1"/>
<line x1="576.5" x2="578.0" y1="252.5" y2="252.5" stroke="#c8c8c8" stroke-width="1"/>
<line x1="576.5" x2="578.0" y1="249.5" y2="249.5" stroke="#c8c8c8" stroke-width="1"/>
<line x1="576.5" x2="578.0" y1="246.5" y2="246.5" stroke="#c8c8c8" stroke-width="1"/>
<line x1="576.5" x2="578.0" y1="243.5" y2="243.5" stroke="#c8c8c8" stroke-width="1"/>
<line x1="576.5" x2="578.0" y1="240.5" y2="240.5" stroke="#c8c8c8" stroke-width="1"/>
<line x1="576.5" x2="578.0" y1="237.5" y2="237.5" stroke="#c8c8c8" stroke-width="1"/>
<line x1="576.5" x2="578.0" y1="234.5" y2="234.5" stroke="#c8c8c8" stroke-width="1"/>
<line x1="576.5" x2="578.0" y1="231.5" y2="231.5" stroke="#c8c8c8" stroke-width="1"/>
<line x1="576.5" x2="578.0" y1="228.5" y2="228.5" stroke="#c8c8c8" stroke-width="1"/>
<line x1="576.5" x2="578.0" y1="225.5" y2="225.5" stroke="#c8c8c8" stroke-width="1"/>
<line x1="576.5" x2="578.0" y1="222.5" y2="222.5" stroke="#c8c8c8" stroke-width="1"/>
<line x1="576.5" x2="578.0" y1="219.5" y2="219.5" stroke="#c8c8c8" stroke-width="1"/>
<line x1="576.5" x2="578.0" y1="216.5" y2="216.5" stroke="#c8c8c8" stroke-width="1"/>
<line x1="576.5" x2="578.0" y1="213.5" y2="213.5" stroke="#c8c8c8" stroke-width="1"/>
<line x1="576.5" x2="578.0" y1="211.5" y2="211.5" stroke="#c8c8c8" stroke-width="1"/>
<line x1="576.5" x2="578.0" y1="208.5" y2="208.5" stroke="#c8c8c8" stroke-width="1"/>
<line x1="576.5" x2="578.0" y1="205.5" y2="205.5" stroke="#c8c8c8" stroke-width="1"/>
<line x1="576.5" x2="578.0" y1="202.5" y2="202.5" stroke="#c8c8c8" stroke-width="1"/>
<line x1="576.5" x2="578.0" y1="200.5" y2="200.5" stroke="#c8c8c8" stroke-width="1"/>
<line x1="576.5" x2="578.0" y1="197.5" y2="197.5" stroke="#c8c8c8" stroke-width="1"/>
<line x1="576.5" x2="578.0" y1="194.5" y2="194.5" stroke="#c8c8c8" stroke-width="1"/>
<line x1="576.5" x2="578.0" y1="192.5" y2="192.5" stroke="#c8c8c8" stroke-width="1"/>
<line x1="576.5" x2="578.0" y1="189.5" y2="189.5" stroke="#c8c8c8" stroke-width="1"/>
<line x1="576.5" x2="578.0" y1="186.5" y2="186.5" stroke="#c8c8c8" stroke-width="1"/>
<line x1="576.5" x2="578.0" y1="184.5" y2="184.5" stroke="#c8c8c8" stroke-width="1"/>
<line x1="576.5" x2="578.0" y1="181.5" y2="181.5" stroke="#c8c8c8" stroke-width="1"/>
<line x1="576.5" x2="578.0" y1="179.5" y2="179.5" stroke="#c8c8c8" stroke-width="1"/>
<line x1="576.5" x2="578.0" y1="176.5" y2="176.5" stroke="#c8c8c8" stroke-width="1"/>
<line x1="576.5" x2="578.0" y1="174.5" y2="174.5" stroke="#c8c8c8" stroke-width="1"/>
<line x1="576.5" x2="578.0" y1="171.5" y2="171.5" stroke="#c8c8c8" stroke-width="1"/>
<line x1="576.5" x2="578.0" y1="169.5" y2="169.5" stroke="#c8c8c8" stroke-width="1"/>
<line x1="576.5" x2="578.0" y1="166.5" y2="166.5" stroke="#c8c8c8" stroke-width="1"/>
<line x1="576.5" x2="578.0" y1="164.5" y2="164.5" stroke="#c8c8c8" stroke-width="1"/>
<line x1="576.5" x2="578.0" y1="161.5" y2="161.5" stroke="#c8c8c8" stroke-width="1"/>
<line x1="576.5" x2="578.0" y1="159.5" y2="159.5" stroke="#c8c8c8" stroke-width="1"/>
<line x1="576.5" x2="578.0" y1="157.5" y2="157.5" stroke="#c8c8c8" stroke-width="1"/>
<line x1="576.5" x2="578.0" y1="154.5" y2="154.5" stroke="#c8c8c8" stroke-width="1"/>
<line x1="723.5" x2="726.0" y1="36.5" y2="36.5" stroke="#b0b0b0" stroke-width="1"/>
<line x1="723.5" x2="726.0" y1="57.5" y2="57.5" stroke="#b0b0b0" stroke-width="1"/>
<line x1="723.5" x2="726.0" y1="79.5" y2="79.5" stroke="#b0b0b0" stroke-width="1"/>
<line x1="723.5" x2="726.0" y1="100.5" y2="100.5" stroke="#b0b0b0" stroke-width="1"/>
<line x1="723.5" x2="726.0" y1="121.5" y2="121.5" stroke="#b0b0b0" stroke-width="1"/>
<line x1="723.5" x2="726.0" y1="141.5" y2="141.5" stroke="#b0b0b0" stroke-width="1"/>
<line x1="723.5" x2="726.0" y1="483.5" y2="483.5" stroke="#b0b0b0" stroke-width="1"/>
<line x1="723.5" x2="726.0" y1="462.5" y2="462.5" stroke="#b0b0b0" stroke-width="1"/>
<line x1="723.5" x2="726.0" y1="442.5" y2="442.5" stroke="#b0b0b0" stroke-width="1"/>
<line x1="723.5" x2="726.0" y1="421.5" y2="421.5" stroke="#b0b0b0" stroke-width="1"/>
<line x1="723.5" x2="726.0" y1="401.5" y2="401.5" stroke="#b0b0b0" stroke-width="1"/>
<line x1="723.5" x2="726.0" y1="380.5" y2="380.5" stroke="#b0b0b0" stroke-width="1"/>
<line x1="723.5" x2="726.0" y1="360.5" y2="360.5" stroke="#b0b0b0" stroke-width="1"/>
<line x1="723.5" x2="726.0" y1="339.5" y2="339.5" stroke="#b0b0b0" stroke-width="1"/>
<line x1="723.5" x2="726.0" y1="319.5" y2="319.5" stroke="#b0b0b0" stroke-width="1"/>
<line x1="723.5" x2="726.0" y1="298.5" y2="298.5" stroke="#b0b0b0" stroke-width="1"/>
<line x1="723.5" x2="726.0" y1="278.5" y2="278.5" stroke="#b0b0b0" stroke-width="1"/>
<line x1="723.5" x2="726.0" y1="257.5" y2="257.5" stroke="#b0b0b0" stroke-width="1"/>
<line x1="723.5" x2="726.0" y1="237.5" y2="237.5" stroke="#b0b0b0" stroke-width="1"/>
<line x1="723.5" x2="726.0" y1="216.5" y2="216.5" stroke="#b0b0b0" stroke-width="1"/>
<line x1="723.5" x2="726.0" y1="196.5" y2="196.5" stroke="#b0b0b0" stroke-width="1"/>
<line x1="723.5" x2="726.0" y1="175.5" y2="175.5" stroke="#b0b0b0" stroke-width="1"/>
<line x1="723.5" x2="726.0" y1="155.5" y2="155.5" stroke="#b0b0b0" stroke-width="1"/>
<line x1="723.5" x2="726.0" y1="617.5" y2="617.5" stroke="#b0b0b0" stroke-width="1"/>
<line x1="723.5" x2="726.0" y1="596.5" y2="596.5" stroke="#b0b0b0" stroke-width="1"/>
<line x1="723.5" x2="726.0" y1="575.5" y2="575.5" stroke="#b0b0b0" stroke-width="1"/>
<line x1="723.5" x2="726.0" y1="555.5" y2="555.5" stroke="#b0b0b0" stroke-width="1"/>
<line x1="723.5" x2="726.0" y1="534.5" y2="534.5" stroke="#b0b0b0" stroke-width="1"/>
<line x1="723.5" x2="726.0" y1="513.5" y2="513.5" stroke="#b0b0b0" stroke-width="1"/>
<path d="M721.5 122.0 L725.0 116.5 H754.7 V127.5 H725.0 Z" fill="#fff" stroke="#000" stroke-width="1"/>
<text x="726.0" y="125.7" font-size="10.4" font-weight="bold" fill="#000" stroke="#000" stroke-width="0.35" font-family="Liberation Sans, sans-serif" textLength="26.5" lengthAdjust="spacingAndGlyphs">33.97</text>
<path d="M721.5 483.0 L725.0 477.5 H754.7 V488.5 H725.0 Z" fill="#fff" stroke="#000" stroke-width="1"/>
<text x="726.0" y="486.7" font-size="10.4" font-weight="bold" fill="#000" stroke="#000" stroke-width="0.35" font-family="Liberation Sans, sans-serif" textLength="26.5" lengthAdjust="spacingAndGlyphs">6.350</text>
<path d="M721.5 513.3 L725.0 507.8 H765.7 V518.8 H725.0 Z" fill="#fff" stroke="#000" stroke-width="1"/>
<text x="726.0" y="517.0" font-size="10.4" font-weight="bold" fill="#000" stroke="#000" stroke-width="0.35" font-family="Liberation Sans, sans-serif" textLength="37.5" lengthAdjust="spacingAndGlyphs">2040.02</text>
</svg>
</body></html>
